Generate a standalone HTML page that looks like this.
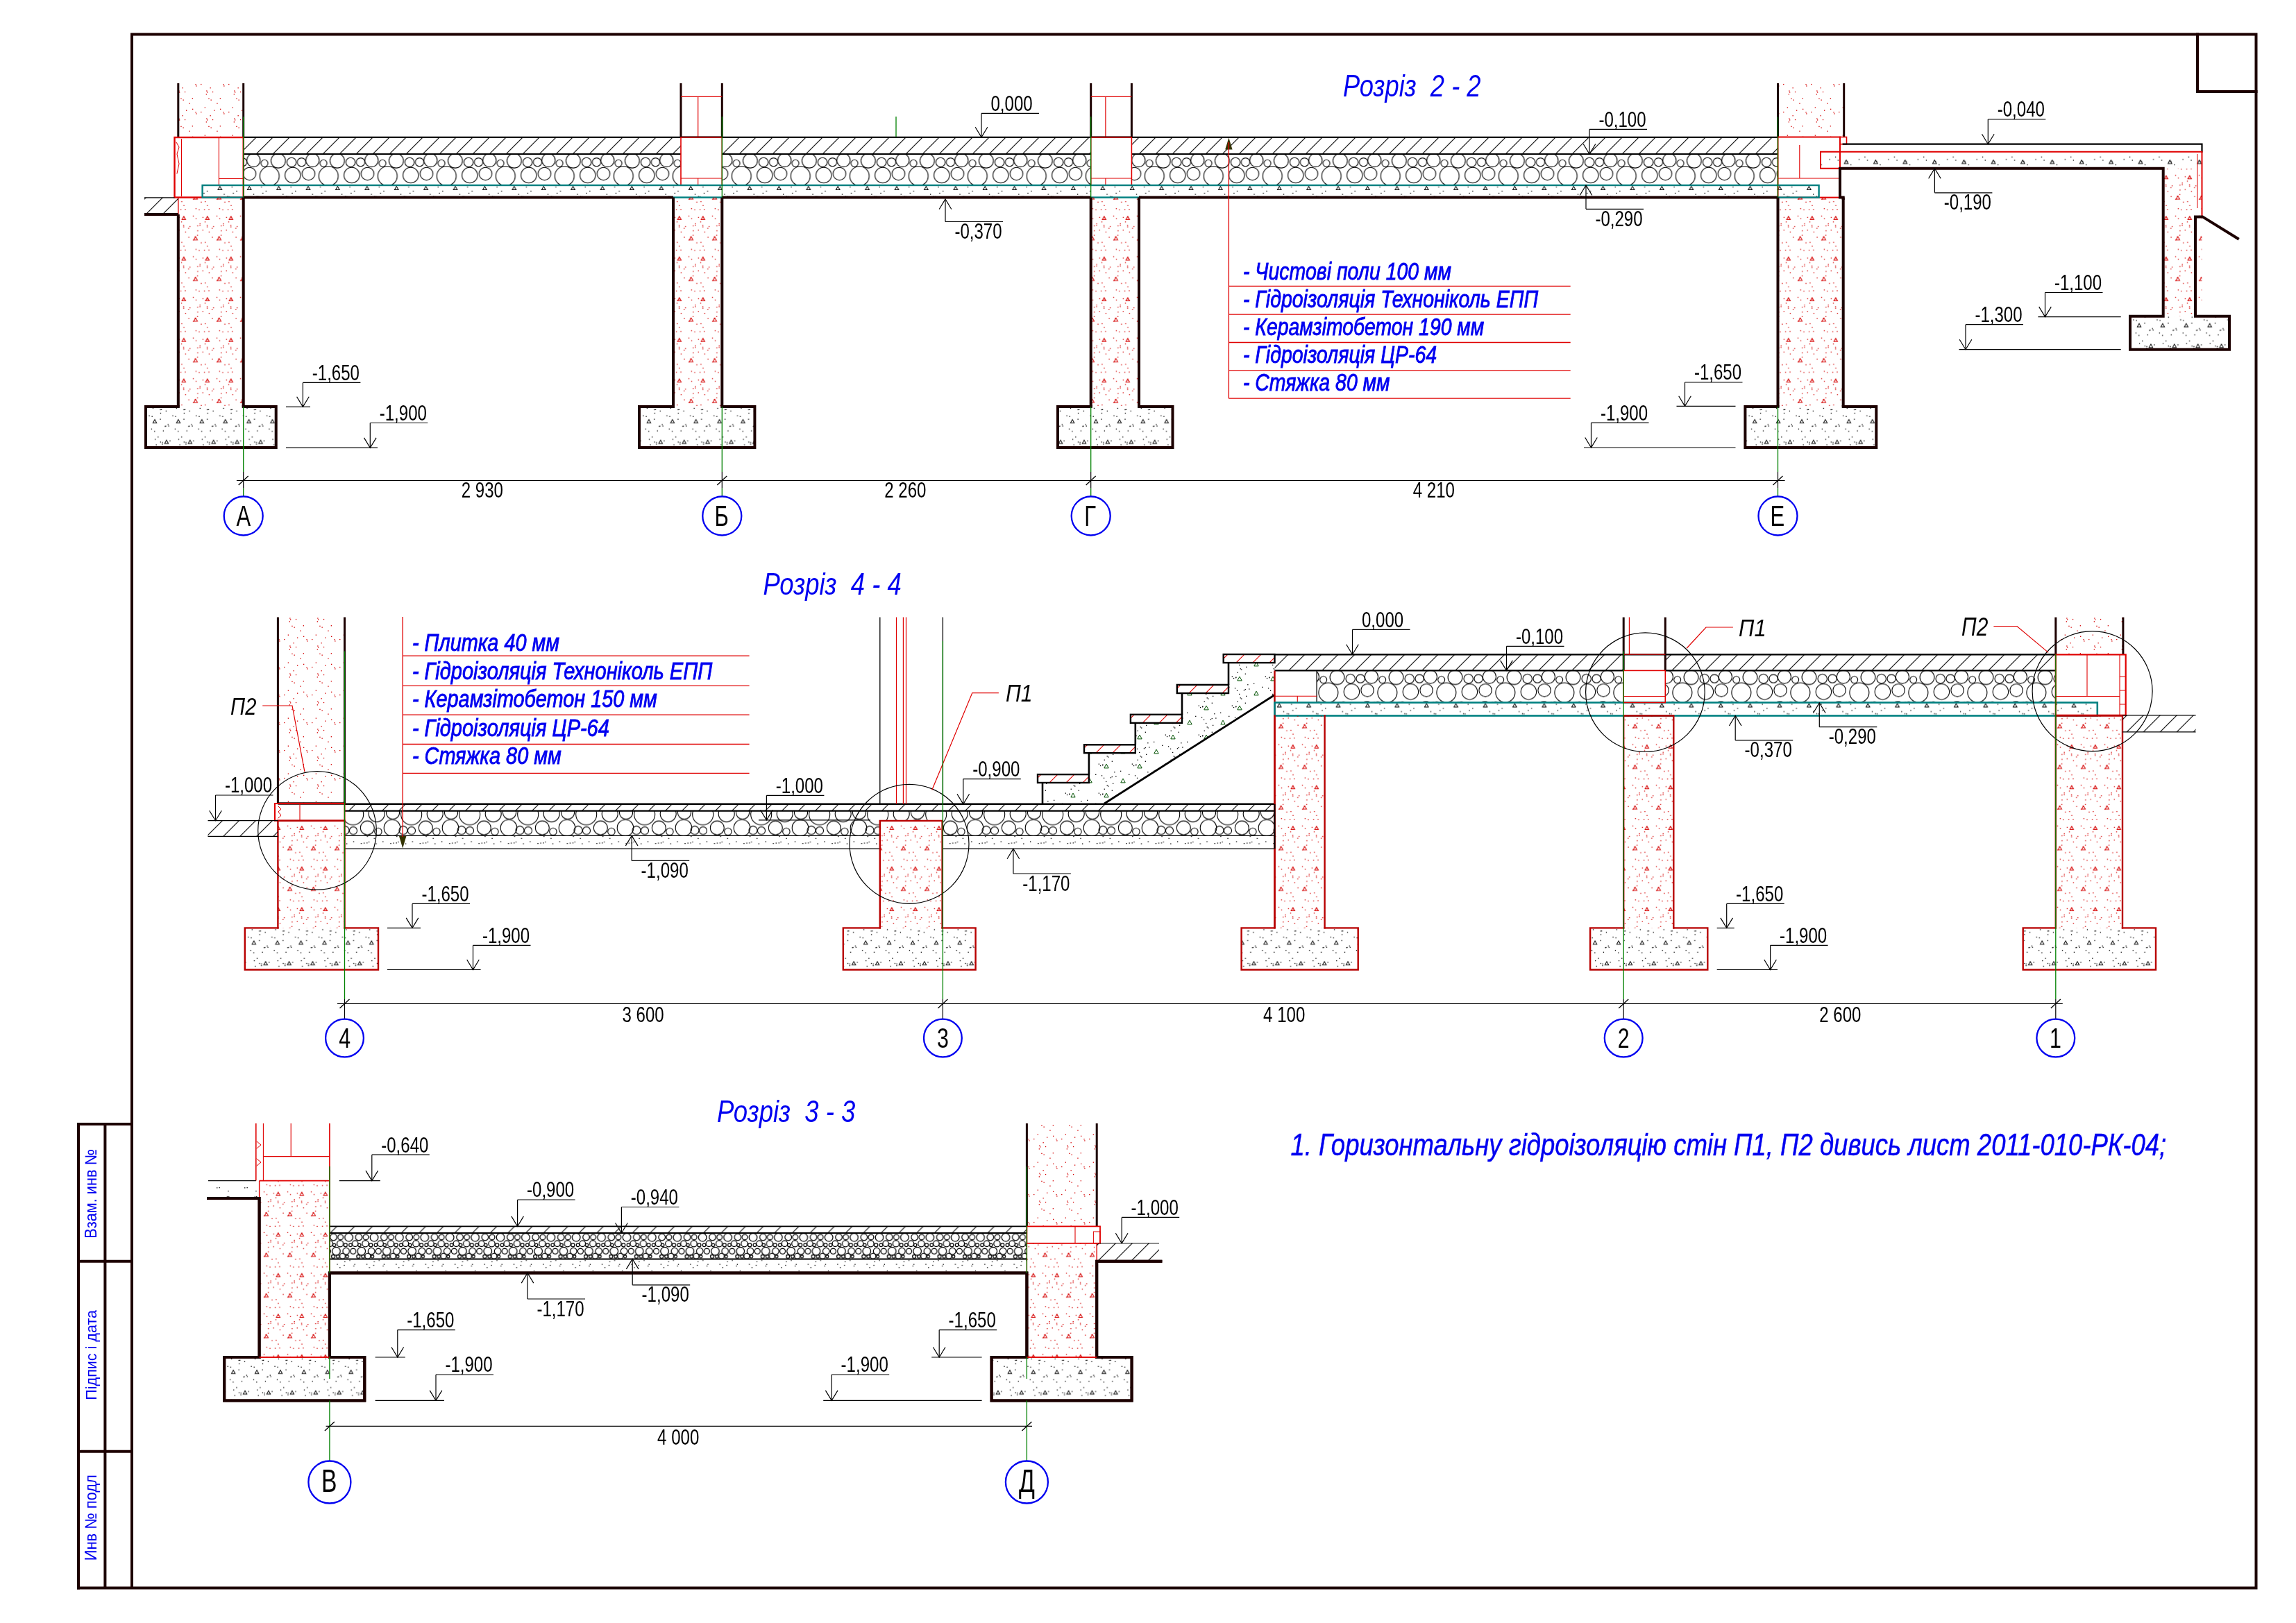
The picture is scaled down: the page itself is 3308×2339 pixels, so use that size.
<!DOCTYPE html><html><head><meta charset="utf-8"><style>html,body{margin:0;padding:0;background:#fff;width:3308px;height:2339px;overflow:hidden}</style></head><body><svg width="3308" height="2339" viewBox="0 0 3308 2339" style="display:block;white-space:pre;will-change:transform" font-family="Liberation Sans, sans-serif"><defs><pattern id="rc" patternUnits="userSpaceOnUse" x="256.8" y="300" width="34" height="58.6"><rect x="4.4" y="48.6" width="1.3" height="1.3" fill="#d40000"/><rect x="25" y="14.6" width="1.3" height="1.3" fill="#d40000"/><rect x="16.2" y="25.8" width="1.3" height="1.3" fill="#d40000"/><rect x="21.3" y="45.2" width="1.3" height="1.3" fill="#d40000"/><rect x="3.1" y="1.6" width="1.3" height="1.3" fill="#d40000"/><rect x="27.3" y="24.8" width="1.3" height="1.3" fill="#d40000"/><rect x="24.9" y="0.1" width="1.3" height="1.3" fill="#d40000"/><rect x="14.6" y="41.3" width="1.3" height="1.3" fill="#d40000"/><rect x="7.5" y="54.2" width="1.3" height="1.3" fill="#d40000"/><rect x="29.5" y="1.8" width="1.3" height="1.3" fill="#d40000"/><rect x="0.8" y="31" width="1.3" height="1.3" fill="#d40000"/><rect x="30.7" y="21.8" width="1.3" height="1.3" fill="#d40000"/><rect x="7.1" y="24.2" width="1.3" height="1.3" fill="#d40000"/><rect x="0.9" y="12.7" width="1.3" height="1.3" fill="#d40000"/><rect x="14.3" y="28.4" width="1.3" height="1.3" fill="#d40000"/><rect x="7.6" y="13.2" width="1.3" height="1.3" fill="#d40000"/><rect x="7.2" y="26.3" width="1.3" height="1.3" fill="#d40000"/><rect x="9.5" y="1.2" width="1.3" height="1.3" fill="#d40000"/><rect x="27.4" y="31.9" width="1.3" height="1.3" fill="#d40000"/><rect x="21" y="10.7" width="1.3" height="1.3" fill="#d40000"/><rect x="32.5" y="49.3" width="1.3" height="1.3" fill="#d40000"/><rect x="4" y="19.1" width="1.3" height="1.3" fill="#d40000"/><rect x="23.6" y="40.8" width="1.3" height="1.3" fill="#d40000"/><rect x="30.6" y="24.2" width="1.3" height="1.3" fill="#d40000"/><rect x="27.1" y="38.4" width="1.3" height="1.3" fill="#d40000"/><rect x="9.9" y="33.7" width="1.3" height="1.3" fill="#d40000"/><path d="M5.3 16.4 L8 11.6 L10.7 16.4 Z" fill="none" stroke="#d40000" stroke-width="1"/><path d="M22.3 45.7 L25 40.9 L27.7 45.7 Z" fill="none" stroke="#d40000" stroke-width="1"/></pattern><pattern id="rd" patternUnits="userSpaceOnUse" x="0" y="0" width="40" height="40"><rect x="37" y="36.7" width="1.3" height="1.3" fill="#d40000"/><rect x="2.2" y="3.3" width="1.3" height="1.3" fill="#d40000"/><rect x="32.3" y="28.5" width="1.3" height="1.3" fill="#d40000"/><rect x="25.9" y="11.9" width="1.3" height="1.3" fill="#d40000"/><rect x="23.5" y="23.5" width="1.3" height="1.3" fill="#d40000"/><rect x="22.5" y="6.1" width="1.3" height="1.3" fill="#d40000"/><rect x="16.7" y="15.2" width="1.3" height="1.3" fill="#d40000"/><rect x="28" y="38.5" width="1.3" height="1.3" fill="#d40000"/><rect x="36.7" y="21.1" width="1.3" height="1.3" fill="#d40000"/><rect x="17.2" y="10.4" width="1.3" height="1.3" fill="#d40000"/><rect x="1.4" y="1.1" width="1.3" height="1.3" fill="#d40000"/><rect x="18" y="12.3" width="1.3" height="1.3" fill="#d40000"/><rect x="14.7" y="34.5" width="1.3" height="1.3" fill="#d40000"/><rect x="20.3" y="21.7" width="1.3" height="1.3" fill="#d40000"/><rect x="9.1" y="0.9" width="1.3" height="1.3" fill="#d40000"/></pattern><pattern id="bc" patternUnits="userSpaceOnUse" x="210" y="586" width="33.9" height="59.4"><rect x="7.8" y="31.6" width="1.3" height="1.3" fill="#000"/><rect x="12.1" y="35.1" width="1.3" height="1.3" fill="#000"/><rect x="20.4" y="3.8" width="1.3" height="1.3" fill="#000"/><rect x="0.4" y="48.7" width="1.3" height="1.3" fill="#000"/><rect x="8.5" y="13.6" width="1.3" height="1.3" fill="#000"/><rect x="32.5" y="27.3" width="1.3" height="1.3" fill="#000"/><rect x="27.3" y="27.7" width="1.3" height="1.3" fill="#000"/><rect x="20.8" y="8.8" width="1.3" height="1.3" fill="#000"/><rect x="20.7" y="50.4" width="1.3" height="1.3" fill="#000"/><rect x="17.1" y="43.1" width="1.3" height="1.3" fill="#000"/><rect x="21.9" y="3.7" width="1.3" height="1.3" fill="#000"/><rect x="24.7" y="34.3" width="1.3" height="1.3" fill="#000"/><rect x="9.8" y="1.8" width="1.3" height="1.3" fill="#000"/><rect x="28.2" y="27.5" width="1.3" height="1.3" fill="#000"/><rect x="23.4" y="51.1" width="1.3" height="1.3" fill="#000"/><rect x="23.3" y="53.5" width="1.3" height="1.3" fill="#000"/><rect x="12.9" y="46.5" width="1.3" height="1.3" fill="#000"/><rect x="14.5" y="54.4" width="1.3" height="1.3" fill="#000"/><rect x="28.7" y="5.7" width="1.3" height="1.3" fill="#000"/><rect x="4.4" y="12.6" width="1.3" height="1.3" fill="#000"/><rect x="31.5" y="25.3" width="1.3" height="1.3" fill="#000"/><rect x="20.4" y="17.5" width="1.3" height="1.3" fill="#000"/><path d="M10.3 23.4 L13 18.6 L15.7 23.4 Z" fill="none" stroke="#000" stroke-width="1"/><path d="M27.2 53.1 L29.9 48.3 L32.6 53.1 Z" fill="none" stroke="#000" stroke-width="1"/></pattern><pattern id="bc4" patternUnits="userSpaceOnUse" x="352.8" y="1337.4" width="33.9" height="59.4"><rect x="7.8" y="31.6" width="1.3" height="1.3" fill="#000"/><rect x="12.1" y="35.1" width="1.3" height="1.3" fill="#000"/><rect x="20.4" y="3.8" width="1.3" height="1.3" fill="#000"/><rect x="0.4" y="48.7" width="1.3" height="1.3" fill="#000"/><rect x="8.5" y="13.6" width="1.3" height="1.3" fill="#000"/><rect x="32.5" y="27.3" width="1.3" height="1.3" fill="#000"/><rect x="27.3" y="27.7" width="1.3" height="1.3" fill="#000"/><rect x="20.8" y="8.8" width="1.3" height="1.3" fill="#000"/><rect x="20.7" y="50.4" width="1.3" height="1.3" fill="#000"/><rect x="17.1" y="43.1" width="1.3" height="1.3" fill="#000"/><rect x="21.9" y="3.7" width="1.3" height="1.3" fill="#000"/><rect x="24.7" y="34.3" width="1.3" height="1.3" fill="#000"/><rect x="9.8" y="1.8" width="1.3" height="1.3" fill="#000"/><rect x="28.2" y="27.5" width="1.3" height="1.3" fill="#000"/><rect x="23.4" y="51.1" width="1.3" height="1.3" fill="#000"/><rect x="23.3" y="53.5" width="1.3" height="1.3" fill="#000"/><rect x="12.9" y="46.5" width="1.3" height="1.3" fill="#000"/><rect x="14.5" y="54.4" width="1.3" height="1.3" fill="#000"/><rect x="28.7" y="5.7" width="1.3" height="1.3" fill="#000"/><rect x="4.4" y="12.6" width="1.3" height="1.3" fill="#000"/><rect x="31.5" y="25.3" width="1.3" height="1.3" fill="#000"/><rect x="20.4" y="17.5" width="1.3" height="1.3" fill="#000"/><path d="M10.3 23.4 L13 18.6 L15.7 23.4 Z" fill="none" stroke="#000" stroke-width="1"/><path d="M27.2 53.1 L29.9 48.3 L32.6 53.1 Z" fill="none" stroke="#000" stroke-width="1"/></pattern><pattern id="bc3" patternUnits="userSpaceOnUse" x="323.2" y="1956" width="33.9" height="59.4"><rect x="7.8" y="31.6" width="1.3" height="1.3" fill="#000"/><rect x="12.1" y="35.1" width="1.3" height="1.3" fill="#000"/><rect x="20.4" y="3.8" width="1.3" height="1.3" fill="#000"/><rect x="0.4" y="48.7" width="1.3" height="1.3" fill="#000"/><rect x="8.5" y="13.6" width="1.3" height="1.3" fill="#000"/><rect x="32.5" y="27.3" width="1.3" height="1.3" fill="#000"/><rect x="27.3" y="27.7" width="1.3" height="1.3" fill="#000"/><rect x="20.8" y="8.8" width="1.3" height="1.3" fill="#000"/><rect x="20.7" y="50.4" width="1.3" height="1.3" fill="#000"/><rect x="17.1" y="43.1" width="1.3" height="1.3" fill="#000"/><rect x="21.9" y="3.7" width="1.3" height="1.3" fill="#000"/><rect x="24.7" y="34.3" width="1.3" height="1.3" fill="#000"/><rect x="9.8" y="1.8" width="1.3" height="1.3" fill="#000"/><rect x="28.2" y="27.5" width="1.3" height="1.3" fill="#000"/><rect x="23.4" y="51.1" width="1.3" height="1.3" fill="#000"/><rect x="23.3" y="53.5" width="1.3" height="1.3" fill="#000"/><rect x="12.9" y="46.5" width="1.3" height="1.3" fill="#000"/><rect x="14.5" y="54.4" width="1.3" height="1.3" fill="#000"/><rect x="28.7" y="5.7" width="1.3" height="1.3" fill="#000"/><rect x="4.4" y="12.6" width="1.3" height="1.3" fill="#000"/><rect x="31.5" y="25.3" width="1.3" height="1.3" fill="#000"/><rect x="20.4" y="17.5" width="1.3" height="1.3" fill="#000"/><path d="M10.3 23.4 L13 18.6 L15.7 23.4 Z" fill="none" stroke="#000" stroke-width="1"/><path d="M27.2 53.1 L29.9 48.3 L32.6 53.1 Z" fill="none" stroke="#000" stroke-width="1"/></pattern><pattern id="bcp" patternUnits="userSpaceOnUse" x="3069" y="447.7" width="33.9" height="59.4"><rect x="7.8" y="31.6" width="1.3" height="1.3" fill="#000"/><rect x="12.1" y="35.1" width="1.3" height="1.3" fill="#000"/><rect x="20.4" y="3.8" width="1.3" height="1.3" fill="#000"/><rect x="0.4" y="48.7" width="1.3" height="1.3" fill="#000"/><rect x="8.5" y="13.6" width="1.3" height="1.3" fill="#000"/><rect x="32.5" y="27.3" width="1.3" height="1.3" fill="#000"/><rect x="27.3" y="27.7" width="1.3" height="1.3" fill="#000"/><rect x="20.8" y="8.8" width="1.3" height="1.3" fill="#000"/><rect x="20.7" y="50.4" width="1.3" height="1.3" fill="#000"/><rect x="17.1" y="43.1" width="1.3" height="1.3" fill="#000"/><rect x="21.9" y="3.7" width="1.3" height="1.3" fill="#000"/><rect x="24.7" y="34.3" width="1.3" height="1.3" fill="#000"/><rect x="9.8" y="1.8" width="1.3" height="1.3" fill="#000"/><rect x="28.2" y="27.5" width="1.3" height="1.3" fill="#000"/><rect x="23.4" y="51.1" width="1.3" height="1.3" fill="#000"/><rect x="23.3" y="53.5" width="1.3" height="1.3" fill="#000"/><rect x="12.9" y="46.5" width="1.3" height="1.3" fill="#000"/><rect x="14.5" y="54.4" width="1.3" height="1.3" fill="#000"/><rect x="28.7" y="5.7" width="1.3" height="1.3" fill="#000"/><rect x="4.4" y="12.6" width="1.3" height="1.3" fill="#000"/><rect x="31.5" y="25.3" width="1.3" height="1.3" fill="#000"/><rect x="20.4" y="17.5" width="1.3" height="1.3" fill="#000"/><path d="M10.3 23.4 L13 18.6 L15.7 23.4 Z" fill="none" stroke="#000" stroke-width="1"/><path d="M27.2 53.1 L29.9 48.3 L32.6 53.1 Z" fill="none" stroke="#000" stroke-width="1"/></pattern><pattern id="bd" patternUnits="userSpaceOnUse" x="0" y="0" width="40" height="40"><rect x="9.1" y="4" width="1.3" height="1.3" fill="#000"/><rect x="15.3" y="6" width="1.3" height="1.3" fill="#000"/><rect x="2.6" y="15.5" width="1.3" height="1.3" fill="#000"/><rect x="35.5" y="31" width="1.3" height="1.3" fill="#000"/><rect x="29.6" y="8.6" width="1.3" height="1.3" fill="#000"/><rect x="20.8" y="10.7" width="1.3" height="1.3" fill="#000"/><rect x="6.7" y="4.1" width="1.3" height="1.3" fill="#000"/><rect x="8.3" y="35.9" width="1.3" height="1.3" fill="#000"/><rect x="32.1" y="31.2" width="1.3" height="1.3" fill="#000"/></pattern><pattern id="ht" patternUnits="userSpaceOnUse" x="15.1" y="0" width="24" height="24"><path d="M0 24 L24 0 M-6 6 L6 -6 M18 30 L30 18" stroke="#000" stroke-width="1.1"/></pattern><pattern id="htr" patternUnits="userSpaceOnUse" x="0" y="0" width="24" height="24"><path d="M0 24 L24 0 M-6 6 L6 -6 M18 30 L30 18" stroke="#e00000" stroke-width="1.1"/></pattern><pattern id="ht16" patternUnits="userSpaceOnUse" x="0" y="0" width="25.6" height="25.6"><path d="M0 25.6 L25.6 0 M-6 6 L6 -6 M19.6 31.6 L31.6 19.6" stroke="#000" stroke-width="1.1"/></pattern><pattern id="gv" patternUnits="userSpaceOnUse" x="1139.4" y="222" width="85" height="45"><circle cx="-71.1" cy="31.8" r="14" fill="none" stroke="#000" stroke-width="1.1"/><circle cx="13.9" cy="31.8" r="14" fill="none" stroke="#000" stroke-width="1.1"/><circle cx="98.9" cy="31.8" r="14" fill="none" stroke="#000" stroke-width="1.1"/><circle cx="-37.6" cy="30.5" r="11.2" fill="none" stroke="#000" stroke-width="1.1"/><circle cx="47.4" cy="30.5" r="11.2" fill="none" stroke="#000" stroke-width="1.1"/><circle cx="132.4" cy="30.5" r="11.2" fill="none" stroke="#000" stroke-width="1.1"/><circle cx="-14.9" cy="28.4" r="9.2" fill="none" stroke="#000" stroke-width="1.1"/><circle cx="70.1" cy="28.4" r="9.2" fill="none" stroke="#000" stroke-width="1.1"/><circle cx="155.1" cy="28.4" r="9.2" fill="none" stroke="#000" stroke-width="1.1"/><circle cx="-9.1" cy="9" r="9.6" fill="none" stroke="#000" stroke-width="1.1"/><circle cx="75.9" cy="9" r="9.6" fill="none" stroke="#000" stroke-width="1.1"/><circle cx="160.9" cy="9" r="9.6" fill="none" stroke="#000" stroke-width="1.1"/><circle cx="-78.3" cy="13.3" r="5" fill="none" stroke="#000" stroke-width="1.1"/><circle cx="6.7" cy="13.3" r="5" fill="none" stroke="#000" stroke-width="1.1"/><circle cx="91.7" cy="13.3" r="5" fill="none" stroke="#000" stroke-width="1.1"/><circle cx="-58.5" cy="9.7" r="10.4" fill="none" stroke="#000" stroke-width="1.1"/><circle cx="26.5" cy="9.7" r="10.4" fill="none" stroke="#000" stroke-width="1.1"/><circle cx="111.5" cy="9.7" r="10.4" fill="none" stroke="#000" stroke-width="1.1"/><circle cx="-39.3" cy="11.9" r="6.7" fill="none" stroke="#000" stroke-width="1.1"/><circle cx="45.7" cy="11.9" r="6.7" fill="none" stroke="#000" stroke-width="1.1"/><circle cx="130.7" cy="11.9" r="6.7" fill="none" stroke="#000" stroke-width="1.1"/><circle cx="-24.9" cy="11.7" r="6.1" fill="none" stroke="#000" stroke-width="1.1"/><circle cx="60.1" cy="11.7" r="6.1" fill="none" stroke="#000" stroke-width="1.1"/><circle cx="145.1" cy="11.7" r="6.1" fill="none" stroke="#000" stroke-width="1.1"/><circle cx="-15.8" cy="54" r="9.5" fill="none" stroke="#000" stroke-width="1.1"/><circle cx="69.2" cy="54" r="9.5" fill="none" stroke="#000" stroke-width="1.1"/><circle cx="154.2" cy="54" r="9.5" fill="none" stroke="#000" stroke-width="1.1"/><circle cx="-49.5" cy="54" r="9" fill="none" stroke="#000" stroke-width="1.1"/><circle cx="35.5" cy="54" r="9" fill="none" stroke="#000" stroke-width="1.1"/><circle cx="120.5" cy="54" r="9" fill="none" stroke="#000" stroke-width="1.1"/><circle cx="-85" cy="54" r="9" fill="none" stroke="#000" stroke-width="1.1"/><circle cx="0" cy="54" r="9" fill="none" stroke="#000" stroke-width="1.1"/><circle cx="85" cy="54" r="9" fill="none" stroke="#000" stroke-width="1.1"/></pattern><pattern id="gv3" patternUnits="userSpaceOnUse" x="1900" y="966.4" width="85" height="45"><circle cx="-71.1" cy="31.8" r="14" fill="none" stroke="#000" stroke-width="1.1"/><circle cx="13.9" cy="31.8" r="14" fill="none" stroke="#000" stroke-width="1.1"/><circle cx="98.9" cy="31.8" r="14" fill="none" stroke="#000" stroke-width="1.1"/><circle cx="-37.6" cy="30.5" r="11.2" fill="none" stroke="#000" stroke-width="1.1"/><circle cx="47.4" cy="30.5" r="11.2" fill="none" stroke="#000" stroke-width="1.1"/><circle cx="132.4" cy="30.5" r="11.2" fill="none" stroke="#000" stroke-width="1.1"/><circle cx="-14.9" cy="28.4" r="9.2" fill="none" stroke="#000" stroke-width="1.1"/><circle cx="70.1" cy="28.4" r="9.2" fill="none" stroke="#000" stroke-width="1.1"/><circle cx="155.1" cy="28.4" r="9.2" fill="none" stroke="#000" stroke-width="1.1"/><circle cx="-9.1" cy="9" r="9.6" fill="none" stroke="#000" stroke-width="1.1"/><circle cx="75.9" cy="9" r="9.6" fill="none" stroke="#000" stroke-width="1.1"/><circle cx="160.9" cy="9" r="9.6" fill="none" stroke="#000" stroke-width="1.1"/><circle cx="-78.3" cy="13.3" r="5" fill="none" stroke="#000" stroke-width="1.1"/><circle cx="6.7" cy="13.3" r="5" fill="none" stroke="#000" stroke-width="1.1"/><circle cx="91.7" cy="13.3" r="5" fill="none" stroke="#000" stroke-width="1.1"/><circle cx="-58.5" cy="9.7" r="10.4" fill="none" stroke="#000" stroke-width="1.1"/><circle cx="26.5" cy="9.7" r="10.4" fill="none" stroke="#000" stroke-width="1.1"/><circle cx="111.5" cy="9.7" r="10.4" fill="none" stroke="#000" stroke-width="1.1"/><circle cx="-39.3" cy="11.9" r="6.7" fill="none" stroke="#000" stroke-width="1.1"/><circle cx="45.7" cy="11.9" r="6.7" fill="none" stroke="#000" stroke-width="1.1"/><circle cx="130.7" cy="11.9" r="6.7" fill="none" stroke="#000" stroke-width="1.1"/><circle cx="-24.9" cy="11.7" r="6.1" fill="none" stroke="#000" stroke-width="1.1"/><circle cx="60.1" cy="11.7" r="6.1" fill="none" stroke="#000" stroke-width="1.1"/><circle cx="145.1" cy="11.7" r="6.1" fill="none" stroke="#000" stroke-width="1.1"/><circle cx="-15.8" cy="54" r="9.5" fill="none" stroke="#000" stroke-width="1.1"/><circle cx="69.2" cy="54" r="9.5" fill="none" stroke="#000" stroke-width="1.1"/><circle cx="154.2" cy="54" r="9.5" fill="none" stroke="#000" stroke-width="1.1"/><circle cx="-49.5" cy="54" r="9" fill="none" stroke="#000" stroke-width="1.1"/><circle cx="35.5" cy="54" r="9" fill="none" stroke="#000" stroke-width="1.1"/><circle cx="120.5" cy="54" r="9" fill="none" stroke="#000" stroke-width="1.1"/><circle cx="-85" cy="54" r="9" fill="none" stroke="#000" stroke-width="1.1"/><circle cx="0" cy="54" r="9" fill="none" stroke="#000" stroke-width="1.1"/><circle cx="85" cy="54" r="9" fill="none" stroke="#000" stroke-width="1.1"/></pattern><pattern id="gv2" patternUnits="userSpaceOnUse" x="470" y="1777.3" width="36.4" height="37.4"><circle cx="-25.9" cy="5.7" r="4.8" fill="none" stroke="#000" stroke-width="1.25"/><circle cx="10.5" cy="5.7" r="4.8" fill="none" stroke="#000" stroke-width="1.25"/><circle cx="46.9" cy="5.7" r="4.8" fill="none" stroke="#000" stroke-width="1.25"/><circle cx="-15.8" cy="5.7" r="3.9" fill="none" stroke="#000" stroke-width="1.25"/><circle cx="20.6" cy="5.7" r="3.9" fill="none" stroke="#000" stroke-width="1.25"/><circle cx="57" cy="5.7" r="3.9" fill="none" stroke="#000" stroke-width="1.25"/><circle cx="-3.8" cy="5.9" r="5.8" fill="none" stroke="#000" stroke-width="1.25"/><circle cx="32.6" cy="5.9" r="5.8" fill="none" stroke="#000" stroke-width="1.25"/><circle cx="69" cy="5.9" r="5.8" fill="none" stroke="#000" stroke-width="1.25"/><circle cx="-31.1" cy="15" r="4.2" fill="none" stroke="#000" stroke-width="1.25"/><circle cx="5.3" cy="15" r="4.2" fill="none" stroke="#000" stroke-width="1.25"/><circle cx="41.7" cy="15" r="4.2" fill="none" stroke="#000" stroke-width="1.25"/><circle cx="-24.9" cy="17" r="2.2" fill="none" stroke="#000" stroke-width="1.25"/><circle cx="11.5" cy="17" r="2.2" fill="none" stroke="#000" stroke-width="1.25"/><circle cx="47.9" cy="17" r="2.2" fill="none" stroke="#000" stroke-width="1.25"/><circle cx="-16.3" cy="15" r="4.6" fill="none" stroke="#000" stroke-width="1.25"/><circle cx="20.1" cy="15" r="4.6" fill="none" stroke="#000" stroke-width="1.25"/><circle cx="56.5" cy="15" r="4.6" fill="none" stroke="#000" stroke-width="1.25"/><circle cx="-8.6" cy="17" r="2.5" fill="none" stroke="#000" stroke-width="1.25"/><circle cx="27.8" cy="17" r="2.5" fill="none" stroke="#000" stroke-width="1.25"/><circle cx="64.2" cy="17" r="2.5" fill="none" stroke="#000" stroke-width="1.25"/><circle cx="-1.4" cy="17" r="2.3" fill="none" stroke="#000" stroke-width="1.25"/><circle cx="35" cy="17" r="2.3" fill="none" stroke="#000" stroke-width="1.25"/><circle cx="71.4" cy="17" r="2.3" fill="none" stroke="#000" stroke-width="1.25"/><circle cx="-34" cy="25.9" r="4" fill="none" stroke="#000" stroke-width="1.25"/><circle cx="2.4" cy="25.9" r="4" fill="none" stroke="#000" stroke-width="1.25"/><circle cx="38.8" cy="25.9" r="4" fill="none" stroke="#000" stroke-width="1.25"/><circle cx="-22" cy="25.9" r="5.8" fill="none" stroke="#000" stroke-width="1.25"/><circle cx="14.4" cy="25.9" r="5.8" fill="none" stroke="#000" stroke-width="1.25"/><circle cx="50.8" cy="25.9" r="5.8" fill="none" stroke="#000" stroke-width="1.25"/><circle cx="-7.7" cy="25.9" r="4.8" fill="none" stroke="#000" stroke-width="1.25"/><circle cx="28.7" cy="25.9" r="4.8" fill="none" stroke="#000" stroke-width="1.25"/><circle cx="65.1" cy="25.9" r="4.8" fill="none" stroke="#000" stroke-width="1.25"/><circle cx="-26.4" cy="33.5" r="2.5" fill="none" stroke="#000" stroke-width="1.25"/><circle cx="10" cy="33.5" r="2.5" fill="none" stroke="#000" stroke-width="1.25"/><circle cx="46.4" cy="33.5" r="2.5" fill="none" stroke="#000" stroke-width="1.25"/><circle cx="-19.6" cy="33.5" r="2.3" fill="none" stroke="#000" stroke-width="1.25"/><circle cx="16.8" cy="33.5" r="2.3" fill="none" stroke="#000" stroke-width="1.25"/><circle cx="53.2" cy="33.5" r="2.3" fill="none" stroke="#000" stroke-width="1.25"/><circle cx="-12.9" cy="33" r="4" fill="none" stroke="#000" stroke-width="1.25"/><circle cx="23.5" cy="33" r="4" fill="none" stroke="#000" stroke-width="1.25"/><circle cx="59.9" cy="33" r="4" fill="none" stroke="#000" stroke-width="1.25"/><circle cx="-6.2" cy="33.5" r="2" fill="none" stroke="#000" stroke-width="1.25"/><circle cx="30.2" cy="33.5" r="2" fill="none" stroke="#000" stroke-width="1.25"/><circle cx="66.6" cy="33.5" r="2" fill="none" stroke="#000" stroke-width="1.25"/></pattern><pattern id="sc" patternUnits="userSpaceOnUse" x="0" y="267" width="42.4" height="18"><rect x="25.6" y="12.4" width="1.3" height="1.3" fill="#000"/><rect x="32.7" y="15.7" width="1.3" height="1.3" fill="#000"/><rect x="30.4" y="15.4" width="1.3" height="1.3" fill="#000"/><rect x="1.2" y="7.8" width="1.3" height="1.3" fill="#000"/><rect x="38.8" y="10.8" width="1.3" height="1.3" fill="#000"/><rect x="37" y="1.9" width="1.3" height="1.3" fill="#000"/><path d="M17.2 6.5 L20 1.5 L22.8 6.5 Z" fill="none" stroke="#000" stroke-width="1"/></pattern><pattern id="sc3" patternUnits="userSpaceOnUse" x="0" y="1012.5" width="42.4" height="18"><rect x="25.6" y="12.4" width="1.3" height="1.3" fill="#000"/><rect x="32.7" y="15.7" width="1.3" height="1.3" fill="#000"/><rect x="30.4" y="15.4" width="1.3" height="1.3" fill="#000"/><rect x="1.2" y="7.8" width="1.3" height="1.3" fill="#000"/><rect x="38.8" y="10.8" width="1.3" height="1.3" fill="#000"/><rect x="37" y="1.9" width="1.3" height="1.3" fill="#000"/><path d="M17.2 6.5 L20 1.5 L22.8 6.5 Z" fill="none" stroke="#000" stroke-width="1"/></pattern><pattern id="sc2" patternUnits="userSpaceOnUse" x="2640" y="218.7" width="42.4" height="24"><rect x="18.6" y="12.7" width="1.3" height="1.3" fill="#000"/><rect x="38" y="10.6" width="1.3" height="1.3" fill="#000"/><rect x="20.9" y="13.3" width="1.3" height="1.3" fill="#000"/><rect x="7.6" y="11.6" width="1.3" height="1.3" fill="#000"/><rect x="25.9" y="18" width="1.3" height="1.3" fill="#000"/><rect x="3.9" y="6.9" width="1.3" height="1.3" fill="#000"/><path d="M17.2 17 L20 12 L22.8 17 Z" fill="none" stroke="#000" stroke-width="1"/></pattern><pattern id="scl" patternUnits="userSpaceOnUse" x="0" y="0" width="42.4" height="20"><rect x="32.6" y="15.4" width="1.3" height="1.3" fill="#000"/><rect x="19.9" y="4.9" width="1.3" height="1.3" fill="#000"/><rect x="0" y="12.4" width="1.3" height="1.3" fill="#000"/><rect x="19.3" y="14.2" width="1.3" height="1.3" fill="#000"/><rect x="15.3" y="14.4" width="1.3" height="1.3" fill="#000"/><rect x="11.2" y="15" width="1.3" height="1.3" fill="#000"/><rect x="30" y="7.7" width="1.3" height="1.3" fill="#000"/><rect x="22.1" y="12.8" width="1.3" height="1.3" fill="#000"/></pattern><pattern id="stc" patternUnits="userSpaceOnUse" x="0" y="0" width="48" height="42"><rect x="10.6" y="39.2" width="1.3" height="1.3" fill="#000"/><rect x="5.9" y="28.7" width="1.3" height="1.3" fill="#000"/><rect x="4" y="10.1" width="1.3" height="1.3" fill="#000"/><rect x="46.7" y="8.5" width="1.3" height="1.3" fill="#000"/><rect x="30" y="18.7" width="1.3" height="1.3" fill="#000"/><rect x="21.2" y="20.1" width="1.3" height="1.3" fill="#000"/><rect x="9" y="33.8" width="1.3" height="1.3" fill="#000"/><rect x="4.2" y="9.5" width="1.3" height="1.3" fill="#000"/><rect x="0.9" y="10.9" width="1.3" height="1.3" fill="#000"/><rect x="19" y="36.7" width="1.3" height="1.3" fill="#000"/><rect x="17.7" y="4.6" width="1.3" height="1.3" fill="#000"/><rect x="12.1" y="40.4" width="1.3" height="1.3" fill="#000"/><rect x="2.9" y="25.2" width="1.3" height="1.3" fill="#000"/><rect x="17.6" y="26.9" width="1.3" height="1.3" fill="#000"/><rect x="15.8" y="28.1" width="1.3" height="1.3" fill="#000"/><rect x="23.2" y="26.4" width="1.3" height="1.3" fill="#000"/><rect x="42.1" y="23.7" width="1.3" height="1.3" fill="#000"/><rect x="6.6" y="2.6" width="1.3" height="1.3" fill="#000"/><path d="M6.8 14.9 L10 9.1 L13.2 14.9 Z" fill="none" stroke="#005000" stroke-width="1"/><path d="M30.8 35.9 L34 30.1 L37.2 35.9 Z" fill="none" stroke="#005000" stroke-width="1"/></pattern><pattern id="gv4" patternUnits="userSpaceOnUse" x="1080" y="1168.6" width="84" height="35.8"><circle cx="-67.3" cy="5.2" r="15" fill="none" stroke="#000" stroke-width="1.1"/><circle cx="16.7" cy="5.2" r="15" fill="none" stroke="#000" stroke-width="1.1"/><circle cx="100.7" cy="5.2" r="15" fill="none" stroke="#000" stroke-width="1.1"/><circle cx="-33.3" cy="4.3" r="11.5" fill="none" stroke="#000" stroke-width="1.1"/><circle cx="50.7" cy="4.3" r="11.5" fill="none" stroke="#000" stroke-width="1.1"/><circle cx="134.7" cy="4.3" r="11.5" fill="none" stroke="#000" stroke-width="1.1"/><circle cx="-10" cy="2.4" r="9.6" fill="none" stroke="#000" stroke-width="1.1"/><circle cx="74" cy="2.4" r="9.6" fill="none" stroke="#000" stroke-width="1.1"/><circle cx="158" cy="2.4" r="9.6" fill="none" stroke="#000" stroke-width="1.1"/><circle cx="-79" cy="28" r="6" fill="none" stroke="#000" stroke-width="1.1"/><circle cx="5" cy="28" r="6" fill="none" stroke="#000" stroke-width="1.1"/><circle cx="89" cy="28" r="6" fill="none" stroke="#000" stroke-width="1.1"/><circle cx="-67" cy="28.5" r="5.5" fill="none" stroke="#000" stroke-width="1.1"/><circle cx="17" cy="28.5" r="5.5" fill="none" stroke="#000" stroke-width="1.1"/><circle cx="101" cy="28.5" r="5.5" fill="none" stroke="#000" stroke-width="1.1"/><circle cx="-46.7" cy="24.5" r="10" fill="none" stroke="#000" stroke-width="1.1"/><circle cx="37.3" cy="24.5" r="10" fill="none" stroke="#000" stroke-width="1.1"/><circle cx="121.3" cy="24.5" r="10" fill="none" stroke="#000" stroke-width="1.1"/><circle cx="-31.1" cy="30" r="5.2" fill="none" stroke="#000" stroke-width="1.1"/><circle cx="52.9" cy="30" r="5.2" fill="none" stroke="#000" stroke-width="1.1"/><circle cx="136.9" cy="30" r="5.2" fill="none" stroke="#000" stroke-width="1.1"/><circle cx="-11" cy="24.5" r="11.8" fill="none" stroke="#000" stroke-width="1.1"/><circle cx="73" cy="24.5" r="11.8" fill="none" stroke="#000" stroke-width="1.1"/><circle cx="157" cy="24.5" r="11.8" fill="none" stroke="#000" stroke-width="1.1"/></pattern><pattern id="scl4" patternUnits="userSpaceOnUse" x="0" y="1814.4" width="42.4" height="20.2"><rect x="19" y="7.1" width="1.3" height="1.3" fill="#000"/><rect x="5.7" y="16.4" width="1.3" height="1.3" fill="#000"/><rect x="0.3" y="9.5" width="1.3" height="1.3" fill="#000"/><rect x="36.9" y="1.5" width="1.3" height="1.3" fill="#000"/><rect x="22.8" y="11.7" width="1.3" height="1.3" fill="#000"/><rect x="1.7" y="7.2" width="1.3" height="1.3" fill="#000"/><rect x="28.9" y="8.5" width="1.3" height="1.3" fill="#000"/><rect x="29.8" y="3" width="1.3" height="1.3" fill="#000"/></pattern></defs><rect width="3308" height="2339" fill="#fff"/><path d="M190 49.5 L3250.5 49.5 L3250.5 2288.5 L113 2288.5" stroke="#1c0000" stroke-width="4" fill="none" stroke-linejoin="miter" stroke-linecap="square"/>
<line x1="190" y1="49.5" x2="190" y2="2288.5" stroke="#1c0000" stroke-width="4"/>
<path d="M3166 49.5 L3166 132 L3250.5 132" stroke="#1c0000" stroke-width="4" fill="none" stroke-linejoin="miter" stroke-linecap="square"/>
<path d="M113 2288.5 L113 1620 L190 1620" stroke="#1c0000" stroke-width="4" fill="none" stroke-linejoin="miter" stroke-linecap="square"/>
<line x1="151.4" y1="1620" x2="151.4" y2="2288.5" stroke="#1c0000" stroke-width="4"/>
<line x1="113" y1="1817.8" x2="190" y2="1817.8" stroke="#1c0000" stroke-width="4"/>
<line x1="113" y1="2091.8" x2="190" y2="2091.8" stroke="#1c0000" stroke-width="4"/>
<text transform="translate(131 1720) rotate(-90) translate(-64.8 8.2) scale(0.9187 1)" font-size="23.7" font-style="normal" font-weight="normal" fill="#0000f0">Взам. инв №</text>
<text transform="translate(131 1952) rotate(-90) translate(-65.7 8.2) scale(0.9577 1)" font-size="22.5" font-style="normal" font-weight="normal" fill="#0000f0">Підпис і дата</text>
<text transform="translate(131 2187) rotate(-90) translate(-62.3 8.2) scale(0.9241 1)" font-size="23.7" font-style="normal" font-weight="normal" fill="#0000f0">Инв № подл</text>
<text transform="translate(1934.9 138.6) scale(0.8283 1)" font-size="43.9" font-style="italic" font-weight="normal" fill="#0000f0">Розріз  2 - 2</text>
<rect x="350.7" y="197.8" width="630.3" height="24.2" fill="url(#ht)"/>
<g><clipPath id="cg350"><rect x="350.7" y="222" width="630.3" height="45"/></clipPath></g>
<rect x="350.7" y="222" width="630.3" height="45" fill="url(#gv)" clip-path="url(#cg350)"/>
<line x1="350.7" y1="222" x2="981" y2="222" stroke="#000" stroke-width="2.2"/>
<rect x="1040.3" y="197.8" width="531.4" height="24.2" fill="url(#ht)"/>
<g><clipPath id="cg1040"><rect x="1040.3" y="222" width="531.4" height="45"/></clipPath></g>
<rect x="1040.3" y="222" width="531.4" height="45" fill="url(#gv)" clip-path="url(#cg1040)"/>
<line x1="1040.3" y1="222" x2="1571.7" y2="222" stroke="#000" stroke-width="2.2"/>
<rect x="1630.4" y="197.8" width="931.1" height="24.2" fill="url(#ht)"/>
<g><clipPath id="cg1630"><rect x="1630.4" y="222" width="931.1" height="45"/></clipPath></g>
<rect x="1630.4" y="222" width="931.1" height="45" fill="url(#gv)" clip-path="url(#cg1630)"/>
<line x1="1630.4" y1="222" x2="2561.5" y2="222" stroke="#000" stroke-width="2.2"/>
<rect x="291.6" y="267" width="2329" height="17.5" fill="url(#sc)"/>
<line x1="350.7" y1="197.8" x2="2561.5" y2="197.8" stroke="#000" stroke-width="2.2"/>
<rect x="256.8" y="120" width="93.9" height="78" fill="url(#rd)"/>
<line x1="256.8" y1="120" x2="256.8" y2="198" stroke="#1c0000" stroke-width="3"/>
<line x1="350.7" y1="120" x2="350.7" y2="198" stroke="#1c0000" stroke-width="3"/>
<line x1="981" y1="120" x2="981" y2="197.8" stroke="#1c0000" stroke-width="3"/>
<line x1="1040.3" y1="120" x2="1040.3" y2="197.8" stroke="#1c0000" stroke-width="3"/>
<line x1="981" y1="139.4" x2="1040.3" y2="139.4" stroke="#e00000" stroke-width="1.2"/>
<line x1="1005.7" y1="139.4" x2="1005.7" y2="197.8" stroke="#e00000" stroke-width="1.2"/>
<line x1="1571.7" y1="120" x2="1571.7" y2="197.8" stroke="#1c0000" stroke-width="3"/>
<line x1="1630.4" y1="120" x2="1630.4" y2="197.8" stroke="#1c0000" stroke-width="3"/>
<line x1="1571.7" y1="139.4" x2="1630.4" y2="139.4" stroke="#e00000" stroke-width="1.2"/>
<line x1="1592.9" y1="139.4" x2="1592.9" y2="197.8" stroke="#e00000" stroke-width="1.2"/>
<rect x="2561.5" y="120" width="95.2" height="77.5" fill="url(#rd)"/>
<line x1="2561.5" y1="120" x2="2561.5" y2="198" stroke="#1c0000" stroke-width="3"/>
<line x1="2656.7" y1="120" x2="2656.7" y2="198" stroke="#1c0000" stroke-width="3"/>
<line x1="981" y1="197.8" x2="1040.3" y2="197.8" stroke="#1c0000" stroke-width="2.5"/>
<line x1="1571.7" y1="197.8" x2="1630.4" y2="197.8" stroke="#1c0000" stroke-width="2.5"/>
<rect x="251.5" y="198" width="99.2" height="86.5" stroke="#e00000" stroke-width="2.4" fill="none"/>
<line x1="261.5" y1="200" x2="261.5" y2="283" stroke="#e00000" stroke-width="1.1"/>
<line x1="315.4" y1="198" x2="315.4" y2="266" stroke="#e00000" stroke-width="1.1"/>
<line x1="315.4" y1="257.5" x2="350.7" y2="257.5" stroke="#e00000" stroke-width="1.1"/>
<path d="M254 205 L258 212 L255 222 L258 236 L255 250" stroke="#e00000" stroke-width="1" fill="none" stroke-linejoin="miter" stroke-linecap="square"/>
<rect x="981" y="197.8" width="59.3" height="69.2" stroke="#e00000" stroke-width="1.6" fill="none"/>
<line x1="981" y1="257" x2="1040.3" y2="257" stroke="#e00000" stroke-width="1.1"/>
<line x1="1005.7" y1="257" x2="1005.7" y2="267" stroke="#e00000" stroke-width="1.1"/>
<rect x="1571.7" y="197.8" width="58.7" height="69.2" stroke="#e00000" stroke-width="1.6" fill="none"/>
<line x1="1571.7" y1="257" x2="1630.4" y2="257" stroke="#e00000" stroke-width="1.1"/>
<line x1="1592.9" y1="257" x2="1592.9" y2="267" stroke="#e00000" stroke-width="1.1"/>
<rect x="2561.5" y="197.5" width="89.5" height="87.1" stroke="#e00000" stroke-width="2" fill="none"/>
<line x1="2592.8" y1="209" x2="2592.8" y2="257" stroke="#e00000" stroke-width="1.1"/>
<line x1="2561.5" y1="257" x2="2651" y2="257" stroke="#e00000" stroke-width="1.1"/>
<rect x="2651" y="197.5" width="9.5" height="10.2" stroke="#e00000" stroke-width="1.6" fill="none"/>
<rect x="291.6" y="267" width="2329" height="17.5" stroke="#008080" stroke-width="2.4" fill="none"/>
<rect x="256.8" y="284.5" width="93.9" height="301.5" fill="url(#rc)"/>
<rect x="210" y="586" width="187.7" height="59" fill="url(#bc)"/>
<line x1="256.8" y1="309" x2="256.8" y2="586" stroke="#1c0000" stroke-width="4.0"/>
<line x1="350.7" y1="284.5" x2="350.7" y2="586" stroke="#1c0000" stroke-width="4.0"/>
<path d="M256.8 586 L210 586 L210 645 L397.7 645 L397.7 586 L350.7 586" stroke="#1c0000" stroke-width="4.0" fill="none" stroke-linejoin="miter" stroke-linecap="square"/>
<rect x="970" y="284.5" width="70.3" height="301.5" fill="url(#rc)"/>
<rect x="921" y="586" width="166.4" height="59" fill="url(#bc)"/>
<line x1="970" y1="284.5" x2="970" y2="586" stroke="#1c0000" stroke-width="4.0"/>
<line x1="1040.3" y1="284.5" x2="1040.3" y2="586" stroke="#1c0000" stroke-width="4.0"/>
<path d="M970 586 L921 586 L921 645 L1087.4 645 L1087.4 586 L1040.3 586" stroke="#1c0000" stroke-width="4.0" fill="none" stroke-linejoin="miter" stroke-linecap="square"/>
<rect x="1571.7" y="284.5" width="69.3" height="301.5" fill="url(#rc)"/>
<rect x="1524" y="586" width="165.5" height="59" fill="url(#bc)"/>
<line x1="1571.7" y1="284.5" x2="1571.7" y2="586" stroke="#1c0000" stroke-width="4.0"/>
<line x1="1641" y1="284.5" x2="1641" y2="586" stroke="#1c0000" stroke-width="4.0"/>
<path d="M1571.7 586 L1524 586 L1524 645 L1689.5 645 L1689.5 586 L1641 586" stroke="#1c0000" stroke-width="4.0" fill="none" stroke-linejoin="miter" stroke-linecap="square"/>
<rect x="2561.5" y="284.6" width="94.2" height="301.4" fill="url(#rc)"/>
<rect x="2514.4" y="586" width="188.9" height="59" fill="url(#bc)"/>
<line x1="2561.5" y1="284.6" x2="2561.5" y2="586" stroke="#1c0000" stroke-width="4.0"/>
<line x1="2655.7" y1="284.6" x2="2655.7" y2="586" stroke="#1c0000" stroke-width="4.0"/>
<path d="M2561.5 586 L2514.4 586 L2514.4 645 L2703.3 645 L2703.3 586 L2655.7 586" stroke="#1c0000" stroke-width="4.0" fill="none" stroke-linejoin="miter" stroke-linecap="square"/>
<line x1="256.8" y1="284.5" x2="256.8" y2="309" stroke="#e00000" stroke-width="1.4"/>
<line x1="350.7" y1="284.5" x2="970" y2="284.5" stroke="#1c0000" stroke-width="4.0"/>
<line x1="1040.3" y1="284.5" x2="1571.7" y2="284.5" stroke="#1c0000" stroke-width="4.0"/>
<line x1="1641" y1="284.5" x2="2561.5" y2="284.5" stroke="#1c0000" stroke-width="4.0"/>
<rect x="208" y="284.8" width="48.8" height="24.2" fill="url(#ht)"/>
<line x1="208" y1="284.8" x2="251.5" y2="284.8" stroke="#000" stroke-width="1.2"/>
<line x1="208" y1="309" x2="256.8" y2="309" stroke="#1c0000" stroke-width="4.0"/>
<path d="M2655.7 207.7 L3172.5 207.7 L3172.5 218.7" stroke="#000" stroke-width="2.2" fill="none" stroke-linejoin="miter" stroke-linecap="square"/>
<rect x="2623" y="218.7" width="549.5" height="24" fill="url(#sc2)"/>
<path d="M2651 242.7 L2623 242.7 L2623 218.7 L3172.5 218.7 L3172.5 312.4" stroke="#e00000" stroke-width="2" fill="none" stroke-linejoin="miter" stroke-linecap="square"/>
<rect x="3116.7" y="242.7" width="55.8" height="213" fill="url(#rc)"/>
<rect x="3069" y="455.7" width="143" height="48" fill="url(#bcp)"/>
<path d="M2655.7 286 L2655.7 284.6 L2651 284.6 L2651 242.7 L3116.7 242.7 L3116.7 455.7 L3069 455.7 L3069 503.7 L3212 503.7 L3212 455.7 L3163 455.7 L3163 312.4 L3173.4 312.4 L3224 343.7" stroke="#1c0000" stroke-width="4.0" fill="none" stroke-linejoin="miter" stroke-linecap="square"/>
<line x1="3166" y1="222" x2="3166" y2="300" stroke="#e00000" stroke-width="1"/>
<line x1="350.7" y1="168" x2="350.7" y2="284.5" stroke="#008000" stroke-width="1.3"/>
<line x1="350.7" y1="586" x2="350.7" y2="680" stroke="#008000" stroke-width="1.3"/>
<line x1="350.7" y1="680" x2="350.7" y2="703.7" stroke="#000" stroke-width="1.2"/>
<line x1="350.7" y1="703.7" x2="350.7" y2="715.5" stroke="#008000" stroke-width="1.3"/>
<line x1="1040.3" y1="168" x2="1040.3" y2="284.5" stroke="#008000" stroke-width="1.3"/>
<line x1="1040.3" y1="586" x2="1040.3" y2="680" stroke="#008000" stroke-width="1.3"/>
<line x1="1040.3" y1="680" x2="1040.3" y2="703.7" stroke="#000" stroke-width="1.2"/>
<line x1="1040.3" y1="703.7" x2="1040.3" y2="715.5" stroke="#008000" stroke-width="1.3"/>
<line x1="1571.7" y1="168" x2="1571.7" y2="284.5" stroke="#008000" stroke-width="1.3"/>
<line x1="1571.7" y1="586" x2="1571.7" y2="680" stroke="#008000" stroke-width="1.3"/>
<line x1="1571.7" y1="680" x2="1571.7" y2="703.7" stroke="#000" stroke-width="1.2"/>
<line x1="1571.7" y1="703.7" x2="1571.7" y2="715.5" stroke="#008000" stroke-width="1.3"/>
<line x1="2561.5" y1="168" x2="2561.5" y2="284.5" stroke="#008000" stroke-width="1.3"/>
<line x1="2561.5" y1="586" x2="2561.5" y2="680" stroke="#008000" stroke-width="1.3"/>
<line x1="2561.5" y1="680" x2="2561.5" y2="703.7" stroke="#000" stroke-width="1.2"/>
<line x1="2561.5" y1="703.7" x2="2561.5" y2="715.5" stroke="#008000" stroke-width="1.3"/>
<line x1="1291" y1="168" x2="1291" y2="197" stroke="#008000" stroke-width="1.3"/>
<line x1="1414" y1="163.4" x2="1414" y2="197.8" stroke="#000" stroke-width="1.2"/>
<line x1="1414" y1="163.4" x2="1497" y2="163.4" stroke="#000" stroke-width="1.2"/>
<path d="M1405.5 183.8 L1414 197.8 L1422.5 183.8" stroke="#000" stroke-width="1.2" fill="none" stroke-linejoin="miter" stroke-linecap="square"/>
<text transform="translate(1427.5 159.8) scale(0.7760 1)" font-size="31" font-style="normal" font-weight="normal" fill="#000">0,000</text>
<line x1="1362" y1="319.5" x2="1362" y2="287" stroke="#000" stroke-width="1.2"/>
<line x1="1362" y1="319.5" x2="1445" y2="319.5" stroke="#000" stroke-width="1.2"/>
<path d="M1353.5 301 L1362 287 L1370.5 301" stroke="#000" stroke-width="1.2" fill="none" stroke-linejoin="miter" stroke-linecap="square"/>
<text transform="translate(1375.4 344) scale(0.7760 1)" font-size="31" font-style="normal" font-weight="normal" fill="#000">-0,370</text>
<line x1="2290" y1="186.4" x2="2290" y2="222" stroke="#000" stroke-width="1.2"/>
<line x1="2290" y1="186.4" x2="2373" y2="186.4" stroke="#000" stroke-width="1.2"/>
<path d="M2281.5 208 L2290 222 L2298.5 208" stroke="#000" stroke-width="1.2" fill="none" stroke-linejoin="miter" stroke-linecap="square"/>
<text transform="translate(2303.4 182.8) scale(0.7760 1)" font-size="31" font-style="normal" font-weight="normal" fill="#000">-0,100</text>
<line x1="2285" y1="301.3" x2="2285" y2="267" stroke="#000" stroke-width="1.2"/>
<line x1="2285" y1="301.3" x2="2368" y2="301.3" stroke="#000" stroke-width="1.2"/>
<path d="M2276.5 281 L2285 267 L2293.5 281" stroke="#000" stroke-width="1.2" fill="none" stroke-linejoin="miter" stroke-linecap="square"/>
<text transform="translate(2298.4 325.8) scale(0.7760 1)" font-size="31" font-style="normal" font-weight="normal" fill="#000">-0,290</text>
<line x1="436.4" y1="551.4" x2="436.4" y2="586.3" stroke="#000" stroke-width="1.2"/>
<line x1="436.4" y1="551.4" x2="519.4" y2="551.4" stroke="#000" stroke-width="1.2"/>
<path d="M427.9 572.3 L436.4 586.3 L444.9 572.3" stroke="#000" stroke-width="1.2" fill="none" stroke-linejoin="miter" stroke-linecap="square"/>
<text transform="translate(449.8 547.8) scale(0.7760 1)" font-size="31" font-style="normal" font-weight="normal" fill="#000">-1,650</text>
<line x1="412" y1="586.3" x2="447" y2="586.3" stroke="#000" stroke-width="1.2"/>
<line x1="533.3" y1="609.5" x2="533.3" y2="645.4" stroke="#000" stroke-width="1.2"/>
<line x1="533.3" y1="609.5" x2="616.3" y2="609.5" stroke="#000" stroke-width="1.2"/>
<path d="M524.8 631.4 L533.3 645.4 L541.8 631.4" stroke="#000" stroke-width="1.2" fill="none" stroke-linejoin="miter" stroke-linecap="square"/>
<text transform="translate(546.7 605.9) scale(0.7760 1)" font-size="31" font-style="normal" font-weight="normal" fill="#000">-1,900</text>
<line x1="412" y1="645.4" x2="544" y2="645.4" stroke="#000" stroke-width="1.2"/>
<line x1="2427.5" y1="551" x2="2427.5" y2="585.3" stroke="#000" stroke-width="1.2"/>
<line x1="2427.5" y1="551" x2="2510.5" y2="551" stroke="#000" stroke-width="1.2"/>
<path d="M2419 571.3 L2427.5 585.3 L2436 571.3" stroke="#000" stroke-width="1.2" fill="none" stroke-linejoin="miter" stroke-linecap="square"/>
<text transform="translate(2440.9 547.4) scale(0.7760 1)" font-size="31" font-style="normal" font-weight="normal" fill="#000">-1,650</text>
<line x1="2415.5" y1="585.3" x2="2500.5" y2="585.3" stroke="#000" stroke-width="1.2"/>
<line x1="2292.5" y1="609.3" x2="2292.5" y2="645" stroke="#000" stroke-width="1.2"/>
<line x1="2292.5" y1="609.3" x2="2375.5" y2="609.3" stroke="#000" stroke-width="1.2"/>
<path d="M2284 631 L2292.5 645 L2301 631" stroke="#000" stroke-width="1.2" fill="none" stroke-linejoin="miter" stroke-linecap="square"/>
<text transform="translate(2305.9 605.7) scale(0.7760 1)" font-size="31" font-style="normal" font-weight="normal" fill="#000">-1,900</text>
<line x1="2282" y1="645" x2="2500.5" y2="645" stroke="#000" stroke-width="1.2"/>
<line x1="2864.3" y1="172" x2="2864.3" y2="207.7" stroke="#000" stroke-width="1.2"/>
<line x1="2864.3" y1="172" x2="2947.3" y2="172" stroke="#000" stroke-width="1.2"/>
<path d="M2855.8 193.7 L2864.3 207.7 L2872.8 193.7" stroke="#000" stroke-width="1.2" fill="none" stroke-linejoin="miter" stroke-linecap="square"/>
<text transform="translate(2877.7 168.4) scale(0.7760 1)" font-size="31" font-style="normal" font-weight="normal" fill="#000">-0,040</text>
<line x1="2787.4" y1="277.8" x2="2787.4" y2="242.7" stroke="#000" stroke-width="1.2"/>
<line x1="2787.4" y1="277.8" x2="2870.4" y2="277.8" stroke="#000" stroke-width="1.2"/>
<path d="M2778.9 256.7 L2787.4 242.7 L2795.9 256.7" stroke="#000" stroke-width="1.2" fill="none" stroke-linejoin="miter" stroke-linecap="square"/>
<text transform="translate(2800.8 302.3) scale(0.7760 1)" font-size="31" font-style="normal" font-weight="normal" fill="#000">-0,190</text>
<line x1="2946.5" y1="421.5" x2="2946.5" y2="456.6" stroke="#000" stroke-width="1.2"/>
<line x1="2946.5" y1="421.5" x2="3029.5" y2="421.5" stroke="#000" stroke-width="1.2"/>
<path d="M2938 442.6 L2946.5 456.6 L2955 442.6" stroke="#000" stroke-width="1.2" fill="none" stroke-linejoin="miter" stroke-linecap="square"/>
<text transform="translate(2959.9 417.9) scale(0.7760 1)" font-size="31" font-style="normal" font-weight="normal" fill="#000">-1,100</text>
<line x1="2936.4" y1="456.6" x2="3055.7" y2="456.6" stroke="#000" stroke-width="1.2"/>
<line x1="2832" y1="467.7" x2="2832" y2="503.7" stroke="#000" stroke-width="1.2"/>
<line x1="2832" y1="467.7" x2="2915" y2="467.7" stroke="#000" stroke-width="1.2"/>
<path d="M2823.5 489.7 L2832 503.7 L2840.5 489.7" stroke="#000" stroke-width="1.2" fill="none" stroke-linejoin="miter" stroke-linecap="square"/>
<text transform="translate(2845.4 464.1) scale(0.7760 1)" font-size="31" font-style="normal" font-weight="normal" fill="#000">-1,300</text>
<line x1="2822.5" y1="503.7" x2="3055.7" y2="503.7" stroke="#000" stroke-width="1.2"/>
<line x1="340.9" y1="692.5" x2="2571.6" y2="692.5" stroke="#000" stroke-width="1.2"/>
<line x1="343.7" y1="699" x2="357.7" y2="686" stroke="#000" stroke-width="1.3"/>
<line x1="1033.3" y1="699" x2="1047.3" y2="686" stroke="#000" stroke-width="1.3"/>
<line x1="1564.7" y1="699" x2="1578.7" y2="686" stroke="#000" stroke-width="1.3"/>
<line x1="2554.5" y1="699" x2="2568.5" y2="686" stroke="#000" stroke-width="1.3"/>
<text transform="translate(664.7 716.5) scale(0.7760 1)" font-size="31" font-style="normal" font-weight="normal" fill="#000">2 930</text>
<text transform="translate(1274.3 716.5) scale(0.7760 1)" font-size="31" font-style="normal" font-weight="normal" fill="#000">2 260</text>
<text transform="translate(2035.8 716.5) scale(0.7760 1)" font-size="31" font-style="normal" font-weight="normal" fill="#000">4 210</text>
<circle cx="350.7" cy="743.5" r="28" stroke="#0000f0" stroke-width="2.3" fill="none"/>
<text transform="translate(340.4 757.9) scale(0.7400 1)" font-size="41.9" font-style="normal" font-weight="normal" fill="#000">А</text>
<circle cx="1040.3" cy="743.5" r="28" stroke="#0000f0" stroke-width="2.3" fill="none"/>
<text transform="translate(1029.6 757.9) scale(0.7400 1)" font-size="41.9" font-style="normal" font-weight="normal" fill="#000">Б</text>
<circle cx="1571.7" cy="743.5" r="28" stroke="#0000f0" stroke-width="2.3" fill="none"/>
<text transform="translate(1562.3 757.9) scale(0.7400 1)" font-size="41.9" font-style="normal" font-weight="normal" fill="#000">Г</text>
<circle cx="2561.5" cy="743.5" r="28" stroke="#0000f0" stroke-width="2.3" fill="none"/>
<text transform="translate(2550.5 757.9) scale(0.7400 1)" font-size="41.9" font-style="normal" font-weight="normal" fill="#000">Е</text>
<path d="M1770.4 198.5 L1765.2 215.5 L1775.6 215.5 Z" fill="#333300"/>
<line x1="1770.4" y1="205" x2="1770.4" y2="574.2" stroke="#e00000" stroke-width="1.3"/>
<line x1="1770.4" y1="412.3" x2="2262.7" y2="412.3" stroke="#e00000" stroke-width="1.3"/>
<line x1="1770.4" y1="453.1" x2="2262.7" y2="453.1" stroke="#e00000" stroke-width="1.3"/>
<line x1="1770.4" y1="493.5" x2="2262.7" y2="493.5" stroke="#e00000" stroke-width="1.3"/>
<line x1="1770.4" y1="533.9" x2="2262.7" y2="533.9" stroke="#e00000" stroke-width="1.3"/>
<line x1="1770.4" y1="574.2" x2="2262.7" y2="574.2" stroke="#e00000" stroke-width="1.3"/>
<text transform="translate(1790.9 402.6) scale(0.8187 1)" font-size="34.8" font-style="italic" font-weight="normal" fill="#0000f0" stroke="#0000f0" stroke-width="0.9">- Чистові поли 100 мм</text>
<text transform="translate(1790.9 443.4) scale(0.8198 1)" font-size="34.8" font-style="italic" font-weight="normal" fill="#0000f0" stroke="#0000f0" stroke-width="0.9">- Гідроізоляція Техноніколь ЕПП</text>
<text transform="translate(1790.9 483.4) scale(0.8157 1)" font-size="34.8" font-style="italic" font-weight="normal" fill="#0000f0" stroke="#0000f0" stroke-width="0.9">- Керамзітобетон 190 мм</text>
<text transform="translate(1790.9 523.1) scale(0.8196 1)" font-size="34.8" font-style="italic" font-weight="normal" fill="#0000f0" stroke="#0000f0" stroke-width="0.9">- Гідроізоляція ЦР-64</text>
<text transform="translate(1790.9 563.4) scale(0.8178 1)" font-size="34.8" font-style="italic" font-weight="normal" fill="#0000f0" stroke="#0000f0" stroke-width="0.9">- Стяжка 80 мм</text>
<text transform="translate(1099.4 857) scale(0.8243 1)" font-size="44.3" font-style="italic" font-weight="normal" fill="#0000f0">Розріз  4 - 4</text>
<rect x="496.5" y="1158.8" width="1340" height="9.8" fill="url(#ht)"/>
<clipPath id="g4496"><rect x="496.5" y="1168.6" width="771.3" height="35.8"/></clipPath>
<rect x="496.5" y="1168.6" width="771.3" height="35.8" fill="url(#gv4)" clip-path="url(#g4496)"/>
<clipPath id="g41357"><rect x="1357.6" y="1168.6" width="478.9" height="35.8"/></clipPath>
<rect x="1357.6" y="1168.6" width="478.9" height="35.8" fill="url(#gv4)" clip-path="url(#g41357)"/>
<clipPath id="g4w"><rect x="1267.8" y="1168.6" width="89.8" height="14.3"/></clipPath>
<rect x="1267.8" y="1168.6" width="89.8" height="14.3" fill="url(#gv4)" clip-path="url(#g4w)"/>
<rect x="496.5" y="1204.4" width="771.3" height="18.8" fill="url(#scl)"/>
<rect x="1357.6" y="1204.4" width="478.9" height="18.8" fill="url(#scl)"/>
<line x1="496.5" y1="1158.8" x2="1836.5" y2="1158.8" stroke="#000" stroke-width="2.6"/>
<line x1="496.5" y1="1168.6" x2="1836.5" y2="1168.6" stroke="#000" stroke-width="2.2"/>
<line x1="496.5" y1="1204.4" x2="1267.8" y2="1204.4" stroke="#000" stroke-width="1.3"/>
<line x1="1357.6" y1="1204.4" x2="1836.5" y2="1204.4" stroke="#000" stroke-width="1.3"/>
<line x1="496.5" y1="1223.2" x2="1267.8" y2="1223.2" stroke="#000" stroke-width="1.3"/>
<line x1="1357.6" y1="1223.2" x2="1836.5" y2="1223.2" stroke="#000" stroke-width="1.3"/>
<line x1="1267.8" y1="1182.9" x2="1267.8" y2="1204.4" stroke="#000" stroke-width="1.3"/>
<line x1="1357.6" y1="1182.9" x2="1357.6" y2="1204.4" stroke="#000" stroke-width="1.3"/>
<rect x="400.4" y="889.6" width="96.1" height="268.4" fill="url(#rd)"/>
<line x1="400.4" y1="889.6" x2="400.4" y2="1158" stroke="#1c0000" stroke-width="3"/>
<line x1="496.5" y1="889.6" x2="496.5" y2="1158" stroke="#1c0000" stroke-width="3"/>
<line x1="400.4" y1="1158" x2="496.5" y2="1158" stroke="#1c0000" stroke-width="3.5"/>
<rect x="396" y="1158" width="100.5" height="24.7" stroke="#e00000" stroke-width="2" fill="none"/>
<line x1="432" y1="1158" x2="432" y2="1182.7" stroke="#e00000" stroke-width="1.1"/>
<path d="M401 1162 L405 1166 L401 1170 L405 1175 L401 1179" stroke="#e00000" stroke-width="1" fill="none" stroke-linejoin="miter" stroke-linecap="square"/>
<rect x="400.4" y="1182.7" width="96.1" height="154.7" fill="url(#rc)"/>
<rect x="352.8" y="1337.4" width="192.2" height="60.1" fill="url(#bc4)"/>
<path d="M400.4 1337.4 L400.4 1182.7 L496.5 1182.7 L496.5 1337.4" stroke="#b80000" stroke-width="2.4" fill="none" stroke-linejoin="miter" stroke-linecap="square"/>
<path d="M400.4 1337.4 L352.8 1337.4 L352.8 1397.5 L545 1397.5 L545 1337.4 L496.5 1337.4" stroke="#b80000" stroke-width="2.4" fill="none" stroke-linejoin="miter" stroke-linecap="square"/>
<rect x="299.5" y="1182.7" width="100.9" height="22.6" fill="url(#ht)"/>
<line x1="299.5" y1="1182.7" x2="400.4" y2="1182.7" stroke="#000" stroke-width="1.2"/>
<line x1="299.5" y1="1205.3" x2="400.4" y2="1205.3" stroke="#000" stroke-width="1.2"/>
<line x1="1267.8" y1="889.6" x2="1267.8" y2="1158.8" stroke="#000" stroke-width="1.3"/>
<line x1="1358.4" y1="889.6" x2="1358.4" y2="1158.8" stroke="#000" stroke-width="1.3"/>
<line x1="1291.5" y1="889.6" x2="1291.5" y2="1158.8" stroke="#e00000" stroke-width="1.2"/>
<line x1="1301.4" y1="889.6" x2="1301.4" y2="1158.8" stroke="#e00000" stroke-width="1.2"/>
<line x1="1305.5" y1="889.6" x2="1305.5" y2="1158.8" stroke="#e00000" stroke-width="1.2"/>
<rect x="1267.8" y="1182.9" width="89.8" height="154.5" fill="url(#rc)"/>
<rect x="1214.8" y="1337.4" width="190.8" height="60.1" fill="url(#bc4)"/>
<path d="M1267.8 1337.4 L1267.8 1182.9 L1357.6 1182.9 L1357.6 1337.4" stroke="#b80000" stroke-width="2.4" fill="none" stroke-linejoin="miter" stroke-linecap="square"/>
<path d="M1267.8 1337.4 L1214.8 1337.4 L1214.8 1397.5 L1405.6 1397.5 L1405.6 1337.4 L1357.6 1337.4" stroke="#b80000" stroke-width="2.4" fill="none" stroke-linejoin="miter" stroke-linecap="square"/>
<path d="M1502 1158.3 L1502 1128 L1568.9 1128 L1568.9 1085.2 L1635.8 1085.2 L1635.8 1041.9 L1703 1041.9 L1703 999 L1770 999 L1770 955.1 L1836.5 955.1 L1836.5 1001.5 L1590.8 1158.3 Z" fill="url(#stc)"/>
<rect x="1495" y="1116.1" width="73.9" height="11.9" fill="url(#htr)"/>
<rect x="1495" y="1116.1" width="73.9" height="11.9" stroke="#000" stroke-width="2.4" fill="none"/>
<rect x="1562" y="1073.3" width="73.8" height="11.9" fill="url(#htr)"/>
<rect x="1562" y="1073.3" width="73.8" height="11.9" stroke="#000" stroke-width="2.4" fill="none"/>
<rect x="1628.9" y="1029.8" width="74.1" height="12.1" fill="url(#htr)"/>
<rect x="1628.9" y="1029.8" width="74.1" height="12.1" stroke="#000" stroke-width="2.4" fill="none"/>
<rect x="1695.8" y="986.9" width="74.2" height="12.1" fill="url(#htr)"/>
<rect x="1695.8" y="986.9" width="74.2" height="12.1" stroke="#000" stroke-width="2.4" fill="none"/>
<rect x="1762.7" y="943" width="73.8" height="12.1" fill="url(#htr)"/>
<rect x="1762.7" y="943" width="73.8" height="12.1" stroke="#000" stroke-width="2.4" fill="none"/>
<line x1="1502" y1="1128" x2="1502" y2="1158.3" stroke="#000" stroke-width="2.6"/>
<line x1="1568.9" y1="1085.2" x2="1568.9" y2="1116.1" stroke="#000" stroke-width="2.6"/>
<line x1="1635.8" y1="1041.9" x2="1635.8" y2="1073.3" stroke="#000" stroke-width="2.6"/>
<line x1="1703" y1="999" x2="1703" y2="1029.8" stroke="#000" stroke-width="2.6"/>
<line x1="1770" y1="955.1" x2="1770" y2="986.9" stroke="#000" stroke-width="2.6"/>
<line x1="1590.8" y1="1158.3" x2="1836.5" y2="1001.5" stroke="#000" stroke-width="2.8"/>
<rect x="1836.5" y="943.2" width="502.7" height="23.2" fill="url(#ht)"/>
<line x1="1836.5" y1="966.4" x2="2339.2" y2="966.4" stroke="#000" stroke-width="2.4"/>
<rect x="2399.3" y="943.2" width="562.5" height="23.2" fill="url(#ht)"/>
<line x1="2399.3" y1="966.4" x2="2961.8" y2="966.4" stroke="#000" stroke-width="2.4"/>
<clipPath id="g31897"><rect x="1897.1" y="966.4" width="442.1" height="46.1"/></clipPath>
<rect x="1897.1" y="966.4" width="442.1" height="46.1" fill="url(#gv3)" clip-path="url(#g31897)"/>
<clipPath id="g32399"><rect x="2399.3" y="966.4" width="562.5" height="46.1"/></clipPath>
<rect x="2399.3" y="966.4" width="562.5" height="46.1" fill="url(#gv3)" clip-path="url(#g32399)"/>
<line x1="1897.1" y1="966.4" x2="1897.1" y2="1012.5" stroke="#000" stroke-width="1.3"/>
<rect x="1836.5" y="1012.5" width="1185.3" height="19" fill="url(#sc3)"/>
<line x1="1836.5" y1="943.2" x2="2961.8" y2="943.2" stroke="#000" stroke-width="2.6"/>
<line x1="1836.5" y1="966.4" x2="1836.5" y2="1337.4" stroke="#b80000" stroke-width="2.4"/>
<line x1="1836.5" y1="1003.2" x2="1897.1" y2="1003.2" stroke="#e00000" stroke-width="1.1"/>
<line x1="1869.3" y1="1003.2" x2="1869.3" y2="1012.5" stroke="#e00000" stroke-width="1.1"/>
<rect x="1836.5" y="1012.5" width="1185.3" height="19" stroke="#008080" stroke-width="2.6" fill="none"/>
<rect x="1836.5" y="1031.5" width="72.1" height="305.9" fill="url(#rc)"/>
<rect x="1788.6" y="1337.4" width="168.1" height="60.1" fill="url(#bc4)"/>
<path d="M1836.5 1337.4 L1836.5 1031.5" stroke="#b80000" stroke-width="2.4" fill="none" stroke-linejoin="miter" stroke-linecap="square"/>
<path d="M1908.6 1031.5 L1908.6 1337.4" stroke="#b80000" stroke-width="2.4" fill="none" stroke-linejoin="miter" stroke-linecap="square"/>
<path d="M1836.5 1337.4 L1788.6 1337.4 L1788.6 1397.5 L1956.7 1397.5 L1956.7 1337.4 L1908.6 1337.4" stroke="#b80000" stroke-width="2.4" fill="none" stroke-linejoin="miter" stroke-linecap="square"/>
<line x1="1836.5" y1="1158.8" x2="1836.5" y2="1223.2" stroke="#000" stroke-width="2"/>
<line x1="2339.2" y1="889.6" x2="2339.2" y2="966.4" stroke="#1c0000" stroke-width="3"/>
<line x1="2399.3" y1="889.6" x2="2399.3" y2="966.4" stroke="#1c0000" stroke-width="3"/>
<line x1="2347.4" y1="889.6" x2="2347.4" y2="943.2" stroke="#e00000" stroke-width="1.2"/>
<line x1="2339.2" y1="943.2" x2="2399.3" y2="943.2" stroke="#e00000" stroke-width="1.2"/>
<rect x="2339.2" y="966.4" width="60.1" height="46.1" stroke="#e00000" stroke-width="1.6" fill="none"/>
<line x1="2339.2" y1="1003.5" x2="2399.3" y2="1003.5" stroke="#e00000" stroke-width="1.1"/>
<rect x="2339.2" y="1031.5" width="72.1" height="305.9" fill="url(#rc)"/>
<rect x="2291.1" y="1337.4" width="169.2" height="60.1" fill="url(#bc4)"/>
<path d="M2339.2 1337.4 L2339.2 1031.5 L2411.3 1031.5 L2411.3 1337.4" stroke="#b80000" stroke-width="2.4" fill="none" stroke-linejoin="miter" stroke-linecap="square"/>
<path d="M2339.2 1337.4 L2291.1 1337.4 L2291.1 1397.5 L2460.3 1397.5 L2460.3 1337.4 L2411.3 1337.4" stroke="#b80000" stroke-width="2.4" fill="none" stroke-linejoin="miter" stroke-linecap="square"/>
<rect x="2961.8" y="889.6" width="97.1" height="53.8" fill="url(#rd)"/>
<line x1="2961.8" y1="889.6" x2="2961.8" y2="943.4" stroke="#1c0000" stroke-width="3"/>
<line x1="3058.9" y1="889.6" x2="3058.9" y2="943.4" stroke="#1c0000" stroke-width="3"/>
<rect x="2961.8" y="943.4" width="100.9" height="87.4" stroke="#e00000" stroke-width="2.2" fill="none"/>
<line x1="3007" y1="943.4" x2="3007" y2="1003.5" stroke="#e00000" stroke-width="1.1"/>
<line x1="2961.8" y1="1003.5" x2="3054" y2="1003.5" stroke="#e00000" stroke-width="1.1"/>
<line x1="3054" y1="943.4" x2="3054" y2="1030.8" stroke="#e00000" stroke-width="1.1"/>
<line x1="3054" y1="975" x2="3062.7" y2="975" stroke="#e00000" stroke-width="1"/>
<line x1="3054" y1="995" x2="3062.7" y2="995" stroke="#e00000" stroke-width="1"/>
<line x1="3054" y1="1015" x2="3062.7" y2="1015" stroke="#e00000" stroke-width="1"/>
<rect x="2961.8" y="1031.5" width="96.2" height="305.9" fill="url(#rc)"/>
<rect x="2914.7" y="1337.4" width="191.3" height="60.1" fill="url(#bc4)"/>
<path d="M2961.8 1337.4 L2961.8 1031.5 L3058 1031.5 L3058 1337.4" stroke="#b80000" stroke-width="2.4" fill="none" stroke-linejoin="miter" stroke-linecap="square"/>
<path d="M2961.8 1337.4 L2914.7 1337.4 L2914.7 1397.5 L3106 1397.5 L3106 1337.4 L3058 1337.4" stroke="#b80000" stroke-width="2.4" fill="none" stroke-linejoin="miter" stroke-linecap="square"/>
<rect x="3058" y="1030.8" width="105.6" height="24" fill="url(#ht)"/>
<line x1="3058" y1="1030.8" x2="3163.6" y2="1030.8" stroke="#000" stroke-width="1.2"/>
<line x1="3058" y1="1054.8" x2="3163.6" y2="1054.8" stroke="#000" stroke-width="1.2"/>
<circle cx="457" cy="1197" r="85.3" stroke="#000" stroke-width="1.2" fill="none"/>
<circle cx="1310" cy="1216.3" r="86" stroke="#000" stroke-width="1.2" fill="none"/>
<circle cx="2370.4" cy="997.7" r="85.8" stroke="#000" stroke-width="1.2" fill="none"/>
<circle cx="3014.6" cy="996.2" r="86.5" stroke="#000" stroke-width="1.2" fill="none"/>
<text transform="translate(332.1 1030) scale(0.8455 1)" font-size="34.4" font-style="italic" font-weight="normal" fill="#000">П2</text>
<path d="M378.8 1017 L421 1017 L438.8 1111.6" stroke="#e00000" stroke-width="1.2" fill="none" stroke-linejoin="miter" stroke-linecap="square"/>
<text transform="translate(1448.9 1010.7) scale(0.8576 1)" font-size="35.1" font-style="italic" font-weight="normal" fill="#000">П1</text>
<path d="M1438.3 998.6 L1400.8 998.6 L1343 1138" stroke="#e00000" stroke-width="1.2" fill="none" stroke-linejoin="miter" stroke-linecap="square"/>
<text transform="translate(2505.1 917) scale(0.8833 1)" font-size="34.9" font-style="italic" font-weight="normal" fill="#000">П1</text>
<path d="M2496.3 904 L2458 904 L2430.5 933.8" stroke="#e00000" stroke-width="1.2" fill="none" stroke-linejoin="miter" stroke-linecap="square"/>
<text transform="translate(2826.1 916) scale(0.7899 1)" font-size="37.8" font-style="italic" font-weight="normal" fill="#000">П2</text>
<path d="M2873 902.5 L2906 902.5 L2950.7 940" stroke="#e00000" stroke-width="1.2" fill="none" stroke-linejoin="miter" stroke-linecap="square"/>
<line x1="496.5" y1="938.6" x2="496.5" y2="1440" stroke="#008000" stroke-width="1.3"/>
<line x1="496.5" y1="1440" x2="496.5" y2="1468.5" stroke="#000" stroke-width="1.2"/>
<line x1="1358.4" y1="924" x2="1358.4" y2="1440" stroke="#008000" stroke-width="1.3"/>
<line x1="1358.4" y1="1440" x2="1358.4" y2="1468.5" stroke="#000" stroke-width="1.2"/>
<line x1="2339.2" y1="938.6" x2="2339.2" y2="1440" stroke="#008000" stroke-width="1.3"/>
<line x1="2339.2" y1="1440" x2="2339.2" y2="1468.5" stroke="#000" stroke-width="1.2"/>
<line x1="2961.8" y1="943" x2="2961.8" y2="1440" stroke="#008000" stroke-width="1.3"/>
<line x1="2961.8" y1="1440" x2="2961.8" y2="1468.5" stroke="#000" stroke-width="1.2"/>
<line x1="310.5" y1="1146" x2="310.5" y2="1182.7" stroke="#000" stroke-width="1.2"/>
<line x1="310.5" y1="1146" x2="393.5" y2="1146" stroke="#000" stroke-width="1.2"/>
<path d="M302 1168.7 L310.5 1182.7 L319 1168.7" stroke="#000" stroke-width="1.2" fill="none" stroke-linejoin="miter" stroke-linecap="square"/>
<text transform="translate(323.9 1142.4) scale(0.7760 1)" font-size="31" font-style="normal" font-weight="normal" fill="#000">-1,000</text>
<line x1="594" y1="1302.4" x2="594" y2="1337.4" stroke="#000" stroke-width="1.2"/>
<line x1="594" y1="1302.4" x2="677" y2="1302.4" stroke="#000" stroke-width="1.2"/>
<path d="M585.5 1323.4 L594 1337.4 L602.5 1323.4" stroke="#000" stroke-width="1.2" fill="none" stroke-linejoin="miter" stroke-linecap="square"/>
<text transform="translate(607.4 1298.8) scale(0.7760 1)" font-size="31" font-style="normal" font-weight="normal" fill="#000">-1,650</text>
<line x1="558" y1="1337.4" x2="606" y2="1337.4" stroke="#000" stroke-width="1.2"/>
<line x1="681.5" y1="1362.4" x2="681.5" y2="1397.5" stroke="#000" stroke-width="1.2"/>
<line x1="681.5" y1="1362.4" x2="764.5" y2="1362.4" stroke="#000" stroke-width="1.2"/>
<path d="M673 1383.5 L681.5 1397.5 L690 1383.5" stroke="#000" stroke-width="1.2" fill="none" stroke-linejoin="miter" stroke-linecap="square"/>
<text transform="translate(694.9 1358.8) scale(0.7760 1)" font-size="31" font-style="normal" font-weight="normal" fill="#000">-1,900</text>
<line x1="558" y1="1397.5" x2="692.6" y2="1397.5" stroke="#000" stroke-width="1.2"/>
<line x1="910.2" y1="1240.4" x2="910.2" y2="1204.4" stroke="#000" stroke-width="1.2"/>
<line x1="910.2" y1="1240.4" x2="993.2" y2="1240.4" stroke="#000" stroke-width="1.2"/>
<path d="M901.7 1218.4 L910.2 1204.4 L918.7 1218.4" stroke="#000" stroke-width="1.2" fill="none" stroke-linejoin="miter" stroke-linecap="square"/>
<text transform="translate(923.6 1264.9) scale(0.7760 1)" font-size="31" font-style="normal" font-weight="normal" fill="#000">-1,090</text>
<line x1="1104.4" y1="1146.3" x2="1104.4" y2="1181.9" stroke="#000" stroke-width="1.2"/>
<line x1="1104.4" y1="1146.3" x2="1187.4" y2="1146.3" stroke="#000" stroke-width="1.2"/>
<path d="M1095.9 1167.9 L1104.4 1181.9 L1112.9 1167.9" stroke="#000" stroke-width="1.2" fill="none" stroke-linejoin="miter" stroke-linecap="square"/>
<text transform="translate(1117.8 1142.7) scale(0.7760 1)" font-size="31" font-style="normal" font-weight="normal" fill="#000">-1,000</text>
<line x1="1093" y1="1181.9" x2="1254" y2="1181.9" stroke="#000" stroke-width="1.2"/>
<line x1="1387.8" y1="1122.6" x2="1387.8" y2="1158.8" stroke="#000" stroke-width="1.2"/>
<line x1="1387.8" y1="1122.6" x2="1470.8" y2="1122.6" stroke="#000" stroke-width="1.2"/>
<path d="M1379.3 1144.8 L1387.8 1158.8 L1396.3 1144.8" stroke="#000" stroke-width="1.2" fill="none" stroke-linejoin="miter" stroke-linecap="square"/>
<text transform="translate(1401.2 1119) scale(0.7760 1)" font-size="31" font-style="normal" font-weight="normal" fill="#000">-0,900</text>
<line x1="1459.9" y1="1259" x2="1459.9" y2="1223.2" stroke="#000" stroke-width="1.2"/>
<line x1="1459.9" y1="1259" x2="1542.9" y2="1259" stroke="#000" stroke-width="1.2"/>
<path d="M1451.4 1237.2 L1459.9 1223.2 L1468.4 1237.2" stroke="#000" stroke-width="1.2" fill="none" stroke-linejoin="miter" stroke-linecap="square"/>
<text transform="translate(1473.3 1283.5) scale(0.7760 1)" font-size="31" font-style="normal" font-weight="normal" fill="#000">-1,170</text>
<line x1="1948.5" y1="907.3" x2="1948.5" y2="943.2" stroke="#000" stroke-width="1.2"/>
<line x1="1948.5" y1="907.3" x2="2031.5" y2="907.3" stroke="#000" stroke-width="1.2"/>
<path d="M1940 929.2 L1948.5 943.2 L1957 929.2" stroke="#000" stroke-width="1.2" fill="none" stroke-linejoin="miter" stroke-linecap="square"/>
<text transform="translate(1962 903.7) scale(0.7760 1)" font-size="31" font-style="normal" font-weight="normal" fill="#000">0,000</text>
<line x1="2170.5" y1="931.4" x2="2170.5" y2="966.4" stroke="#000" stroke-width="1.2"/>
<line x1="2170.5" y1="931.4" x2="2253.5" y2="931.4" stroke="#000" stroke-width="1.2"/>
<path d="M2162 952.4 L2170.5 966.4 L2179 952.4" stroke="#000" stroke-width="1.2" fill="none" stroke-linejoin="miter" stroke-linecap="square"/>
<text transform="translate(2183.9 927.8) scale(0.7760 1)" font-size="31" font-style="normal" font-weight="normal" fill="#000">-0,100</text>
<line x1="2500.2" y1="1066.9" x2="2500.2" y2="1031.5" stroke="#000" stroke-width="1.2"/>
<line x1="2500.2" y1="1066.9" x2="2583.2" y2="1066.9" stroke="#000" stroke-width="1.2"/>
<path d="M2491.7 1045.5 L2500.2 1031.5 L2508.7 1045.5" stroke="#000" stroke-width="1.2" fill="none" stroke-linejoin="miter" stroke-linecap="square"/>
<text transform="translate(2513.6 1091.4) scale(0.7760 1)" font-size="31" font-style="normal" font-weight="normal" fill="#000">-0,370</text>
<line x1="2621.3" y1="1047.7" x2="2621.3" y2="1013" stroke="#000" stroke-width="1.2"/>
<line x1="2621.3" y1="1047.7" x2="2704.3" y2="1047.7" stroke="#000" stroke-width="1.2"/>
<path d="M2612.8 1027 L2621.3 1013 L2629.8 1027" stroke="#000" stroke-width="1.2" fill="none" stroke-linejoin="miter" stroke-linecap="square"/>
<text transform="translate(2634.7 1072.2) scale(0.7760 1)" font-size="31" font-style="normal" font-weight="normal" fill="#000">-0,290</text>
<line x1="2487.7" y1="1302.4" x2="2487.7" y2="1337.4" stroke="#000" stroke-width="1.2"/>
<line x1="2487.7" y1="1302.4" x2="2570.7" y2="1302.4" stroke="#000" stroke-width="1.2"/>
<path d="M2479.2 1323.4 L2487.7 1337.4 L2496.2 1323.4" stroke="#000" stroke-width="1.2" fill="none" stroke-linejoin="miter" stroke-linecap="square"/>
<text transform="translate(2501.1 1298.8) scale(0.7760 1)" font-size="31" font-style="normal" font-weight="normal" fill="#000">-1,650</text>
<line x1="2473.7" y1="1337.4" x2="2498.7" y2="1337.4" stroke="#000" stroke-width="1.2"/>
<line x1="2550.6" y1="1362.4" x2="2550.6" y2="1397.5" stroke="#000" stroke-width="1.2"/>
<line x1="2550.6" y1="1362.4" x2="2633.6" y2="1362.4" stroke="#000" stroke-width="1.2"/>
<path d="M2542.1 1383.5 L2550.6 1397.5 L2559.1 1383.5" stroke="#000" stroke-width="1.2" fill="none" stroke-linejoin="miter" stroke-linecap="square"/>
<text transform="translate(2564 1358.8) scale(0.7760 1)" font-size="31" font-style="normal" font-weight="normal" fill="#000">-1,900</text>
<line x1="2473.7" y1="1397.5" x2="2561" y2="1397.5" stroke="#000" stroke-width="1.2"/>
<line x1="486" y1="1446.5" x2="2971.8" y2="1446.5" stroke="#000" stroke-width="1.2"/>
<line x1="489.5" y1="1453" x2="503.5" y2="1440" stroke="#000" stroke-width="1.3"/>
<line x1="1351.4" y1="1453" x2="1365.4" y2="1440" stroke="#000" stroke-width="1.3"/>
<line x1="2332.2" y1="1453" x2="2346.2" y2="1440" stroke="#000" stroke-width="1.3"/>
<line x1="2954.8" y1="1453" x2="2968.8" y2="1440" stroke="#000" stroke-width="1.3"/>
<text transform="translate(896.5 1473.2) scale(0.7760 1)" font-size="31" font-style="normal" font-weight="normal" fill="#000">3 600</text>
<text transform="translate(1820.1 1473.2) scale(0.7760 1)" font-size="31" font-style="normal" font-weight="normal" fill="#000">4 100</text>
<text transform="translate(2621.2 1473.2) scale(0.7760 1)" font-size="31" font-style="normal" font-weight="normal" fill="#000">2 600</text>
<circle cx="496.5" cy="1496" r="27.4" stroke="#0000f0" stroke-width="2.3" fill="none"/>
<text transform="translate(488.2 1510.4) scale(0.7400 1)" font-size="41" font-style="normal" font-weight="normal" fill="#000">4</text>
<circle cx="1358.4" cy="1496" r="27.4" stroke="#0000f0" stroke-width="2.3" fill="none"/>
<text transform="translate(1350.1 1510.4) scale(0.7400 1)" font-size="41" font-style="normal" font-weight="normal" fill="#000">3</text>
<circle cx="2339.2" cy="1496" r="27.4" stroke="#0000f0" stroke-width="2.3" fill="none"/>
<text transform="translate(2330.8 1510.4) scale(0.7400 1)" font-size="41" font-style="normal" font-weight="normal" fill="#000">2</text>
<circle cx="2961.8" cy="1496" r="27.4" stroke="#0000f0" stroke-width="2.3" fill="none"/>
<text transform="translate(2953 1510.4) scale(0.7400 1)" font-size="41" font-style="normal" font-weight="normal" fill="#000">1</text>
<path d="M580.2 1222.5 L575 1205 L585.4 1205 Z" fill="#333300"/>
<line x1="580.2" y1="889" x2="580.2" y2="1206" stroke="#e00000" stroke-width="1.3"/>
<line x1="580.2" y1="945.2" x2="1079.6" y2="945.2" stroke="#e00000" stroke-width="1.3"/>
<line x1="580.2" y1="988.3" x2="1079.6" y2="988.3" stroke="#e00000" stroke-width="1.3"/>
<line x1="580.2" y1="1030.2" x2="1079.6" y2="1030.2" stroke="#e00000" stroke-width="1.3"/>
<line x1="580.2" y1="1072.5" x2="1079.6" y2="1072.5" stroke="#e00000" stroke-width="1.3"/>
<line x1="580.2" y1="1114.4" x2="1079.6" y2="1114.4" stroke="#e00000" stroke-width="1.3"/>
<text transform="translate(593.9 937.8) scale(0.8291 1)" font-size="34.8" font-style="italic" font-weight="normal" fill="#0000f0" stroke="#0000f0" stroke-width="0.9">- Плитка 40 мм</text>
<text transform="translate(593.9 978.5) scale(0.8333 1)" font-size="34.8" font-style="italic" font-weight="normal" fill="#0000f0" stroke="#0000f0" stroke-width="0.9">- Гідроізоляція Техноніколь ЕПП</text>
<text transform="translate(593.9 1019.3) scale(0.8289 1)" font-size="34.8" font-style="italic" font-weight="normal" fill="#0000f0" stroke="#0000f0" stroke-width="0.9">- Керамзітобетон 150 мм</text>
<text transform="translate(593.9 1060.5) scale(0.8335 1)" font-size="34.8" font-style="italic" font-weight="normal" fill="#0000f0" stroke="#0000f0" stroke-width="0.9">- Гідроізоляція ЦР-64</text>
<text transform="translate(593.9 1100.8) scale(0.8295 1)" font-size="34.8" font-style="italic" font-weight="normal" fill="#0000f0" stroke="#0000f0" stroke-width="0.9">- Стяжка 80 мм</text>
<text transform="translate(1032.9 1616.6) scale(0.8317 1)" font-size="43.9" font-style="italic" font-weight="normal" fill="#0000f0">Розріз  3 - 3</text>
<rect x="474.9" y="1767.4" width="1004.5" height="9.6" fill="url(#ht16)"/>
<clipPath id="g33"><rect x="474.9" y="1777" width="1004.5" height="37.4"/></clipPath>
<rect x="474.9" y="1777" width="1004.5" height="37.4" fill="url(#gv2)" clip-path="url(#g33)"/>
<rect x="474.9" y="1814.4" width="1004.5" height="20.2" fill="url(#scl4)"/>
<line x1="474.9" y1="1767.4" x2="1479.4" y2="1767.4" stroke="#000" stroke-width="1.8"/>
<line x1="474.9" y1="1777" x2="1479.4" y2="1777" stroke="#000" stroke-width="2.2"/>
<line x1="474.9" y1="1814.4" x2="1479.4" y2="1814.4" stroke="#000" stroke-width="2"/>
<line x1="368.8" y1="1619" x2="368.8" y2="1701.6" stroke="#e00000" stroke-width="1.6"/>
<line x1="474.9" y1="1619" x2="474.9" y2="1701.6" stroke="#e00000" stroke-width="1.6"/>
<line x1="379.4" y1="1619" x2="379.4" y2="1701.6" stroke="#e00000" stroke-width="1.1"/>
<line x1="419.2" y1="1619" x2="419.2" y2="1666.6" stroke="#e00000" stroke-width="1.1"/>
<line x1="379.4" y1="1666.6" x2="474.9" y2="1666.6" stroke="#e00000" stroke-width="1.1"/>
<path d="M370 1645 L376 1650 L370 1655" stroke="#e00000" stroke-width="1" fill="none" stroke-linejoin="miter" stroke-linecap="square"/>
<path d="M370 1670 L376 1675 L370 1680" stroke="#e00000" stroke-width="1" fill="none" stroke-linejoin="miter" stroke-linecap="square"/>
<rect x="373.6" y="1701.6" width="101.3" height="254.4" fill="url(#rc)"/>
<rect x="323.2" y="1956" width="202.1" height="62.4" fill="url(#bc3)"/>
<line x1="373.6" y1="1701.6" x2="474.9" y2="1701.6" stroke="#e00000" stroke-width="1.6"/>
<line x1="373.6" y1="1701.6" x2="373.6" y2="1727" stroke="#e00000" stroke-width="1.4"/>
<line x1="474.9" y1="1701.6" x2="474.9" y2="1834.6" stroke="#e00000" stroke-width="1.4"/>
<path d="M300 1727 L373.6 1727 L373.6 1956 L323.2 1956 L323.2 2018.4 L525.3 2018.4 L525.3 1956 L474.9 1956 L474.9 1834.6 L1479.4 1834.6 L1479.4 1956 L1428.6 1956 L1428.6 2018.4 L1630.6 2018.4 L1630.6 1956 L1580.2 1956 L1580.2 1817.8 L1672.4 1817.8" stroke="#1c0000" stroke-width="4.0" fill="none" stroke-linejoin="miter" stroke-linecap="square"/>
<line x1="373.6" y1="1956" x2="474.9" y2="1956" stroke="#e00000" stroke-width="1.4"/>
<line x1="1479.4" y1="1956" x2="1580.2" y2="1956" stroke="#e00000" stroke-width="1.4"/>
<rect x="300" y="1701.6" width="73.6" height="25.4" fill="url(#bd)"/>
<line x1="300" y1="1701.6" x2="368.8" y2="1701.6" stroke="#000" stroke-width="1.1"/>
<rect x="1479.4" y="1619" width="100.8" height="148.4" fill="url(#rd)"/>
<line x1="1479.4" y1="1619" x2="1479.4" y2="1767.4" stroke="#1c0000" stroke-width="3"/>
<line x1="1580.2" y1="1619" x2="1580.2" y2="1767.4" stroke="#1c0000" stroke-width="3"/>
<rect x="1479.4" y="1791.8" width="100.8" height="164.2" fill="url(#rc)"/>
<rect x="1428.6" y="1956" width="202" height="62.4" fill="url(#bc3)"/>
<rect x="1479.4" y="1767.4" width="105.6" height="24.4" stroke="#e00000" stroke-width="1.8" fill="none"/>
<line x1="1549" y1="1767.4" x2="1549" y2="1791.8" stroke="#e00000" stroke-width="1.1"/>
<rect x="1575.4" y="1775" width="9.6" height="16.8" stroke="#e00000" stroke-width="1" fill="none"/>
<line x1="1479.4" y1="1791.8" x2="1479.4" y2="1834.6" stroke="#e00000" stroke-width="1.4"/>
<line x1="1580.2" y1="1791.8" x2="1580.2" y2="1817.8" stroke="#e00000" stroke-width="1.4"/>
<rect x="1580.2" y="1791.8" width="89.8" height="26" fill="url(#ht)"/>
<line x1="1585" y1="1791.8" x2="1670" y2="1791.8" stroke="#000" stroke-width="1.1"/>
<path d="M300 1727 L373.6 1727 L373.6 1956 L323.2 1956 L323.2 2018.4 L525.3 2018.4 L525.3 1956 L474.9 1956 L474.9 1834.6 L1479.4 1834.6 L1479.4 1956 L1428.6 1956 L1428.6 2018.4 L1630.6 2018.4 L1630.6 1956 L1580.2 1956 L1580.2 1817.8 L1672.4 1817.8" stroke="#1c0000" stroke-width="4.0" fill="none" stroke-linejoin="miter" stroke-linecap="square"/>
<line x1="373.6" y1="1956" x2="474.9" y2="1956" stroke="#e00000" stroke-width="1.4"/>
<line x1="1479.4" y1="1956" x2="1580.2" y2="1956" stroke="#e00000" stroke-width="1.4"/>
<line x1="474.9" y1="1681" x2="474.9" y2="1834.6" stroke="#008000" stroke-width="1.3"/>
<line x1="474.9" y1="1956" x2="474.9" y2="1987" stroke="#008000" stroke-width="1.3"/>
<line x1="474.9" y1="2018.4" x2="474.9" y2="2105" stroke="#008000" stroke-width="1.3"/>
<line x1="1479.4" y1="1681" x2="1479.4" y2="1834.6" stroke="#008000" stroke-width="1.3"/>
<line x1="1479.4" y1="1956" x2="1479.4" y2="1987" stroke="#008000" stroke-width="1.3"/>
<line x1="1479.4" y1="2018.4" x2="1479.4" y2="2105" stroke="#008000" stroke-width="1.3"/>
<line x1="535.8" y1="1664.2" x2="535.8" y2="1701.6" stroke="#000" stroke-width="1.2"/>
<line x1="535.8" y1="1664.2" x2="618.8" y2="1664.2" stroke="#000" stroke-width="1.2"/>
<path d="M527.3 1687.6 L535.8 1701.6 L544.3 1687.6" stroke="#000" stroke-width="1.2" fill="none" stroke-linejoin="miter" stroke-linecap="square"/>
<text transform="translate(549.2 1660.6) scale(0.7760 1)" font-size="31" font-style="normal" font-weight="normal" fill="#000">-0,640</text>
<line x1="488.8" y1="1701.6" x2="547.8" y2="1701.6" stroke="#000" stroke-width="1.2"/>
<line x1="745.6" y1="1729" x2="745.6" y2="1767.4" stroke="#000" stroke-width="1.2"/>
<line x1="745.6" y1="1729" x2="828.6" y2="1729" stroke="#000" stroke-width="1.2"/>
<path d="M737.1 1753.4 L745.6 1767.4 L754.1 1753.4" stroke="#000" stroke-width="1.2" fill="none" stroke-linejoin="miter" stroke-linecap="square"/>
<text transform="translate(759 1725.4) scale(0.7760 1)" font-size="31" font-style="normal" font-weight="normal" fill="#000">-0,900</text>
<line x1="895.4" y1="1739.5" x2="895.4" y2="1777" stroke="#000" stroke-width="1.2"/>
<line x1="895.4" y1="1739.5" x2="978.4" y2="1739.5" stroke="#000" stroke-width="1.2"/>
<path d="M886.9 1763 L895.4 1777 L903.9 1763" stroke="#000" stroke-width="1.2" fill="none" stroke-linejoin="miter" stroke-linecap="square"/>
<text transform="translate(908.8 1735.9) scale(0.7760 1)" font-size="31" font-style="normal" font-weight="normal" fill="#000">-0,940</text>
<line x1="760" y1="1872" x2="760" y2="1834.6" stroke="#000" stroke-width="1.2"/>
<line x1="760" y1="1872" x2="843" y2="1872" stroke="#000" stroke-width="1.2"/>
<path d="M751.5 1848.6 L760 1834.6 L768.5 1848.6" stroke="#000" stroke-width="1.2" fill="none" stroke-linejoin="miter" stroke-linecap="square"/>
<text transform="translate(773.4 1896.5) scale(0.7760 1)" font-size="31" font-style="normal" font-weight="normal" fill="#000">-1,170</text>
<line x1="911.2" y1="1851.8" x2="911.2" y2="1814.4" stroke="#000" stroke-width="1.2"/>
<line x1="911.2" y1="1851.8" x2="994.2" y2="1851.8" stroke="#000" stroke-width="1.2"/>
<path d="M902.7 1828.4 L911.2 1814.4 L919.7 1828.4" stroke="#000" stroke-width="1.2" fill="none" stroke-linejoin="miter" stroke-linecap="square"/>
<text transform="translate(924.6 1876.3) scale(0.7760 1)" font-size="31" font-style="normal" font-weight="normal" fill="#000">-1,090</text>
<line x1="572.8" y1="1916.6" x2="572.8" y2="1956" stroke="#000" stroke-width="1.2"/>
<line x1="572.8" y1="1916.6" x2="655.8" y2="1916.6" stroke="#000" stroke-width="1.2"/>
<path d="M564.3 1942 L572.8 1956 L581.3 1942" stroke="#000" stroke-width="1.2" fill="none" stroke-linejoin="miter" stroke-linecap="square"/>
<text transform="translate(586.2 1913) scale(0.7760 1)" font-size="31" font-style="normal" font-weight="normal" fill="#000">-1,650</text>
<line x1="540.6" y1="1956" x2="583.8" y2="1956" stroke="#000" stroke-width="1.2"/>
<line x1="628" y1="1981" x2="628" y2="2018.4" stroke="#000" stroke-width="1.2"/>
<line x1="628" y1="1981" x2="711" y2="1981" stroke="#000" stroke-width="1.2"/>
<path d="M619.5 2004.4 L628 2018.4 L636.5 2004.4" stroke="#000" stroke-width="1.2" fill="none" stroke-linejoin="miter" stroke-linecap="square"/>
<text transform="translate(641.4 1977.4) scale(0.7760 1)" font-size="31" font-style="normal" font-weight="normal" fill="#000">-1,900</text>
<line x1="540.6" y1="2018.4" x2="640" y2="2018.4" stroke="#000" stroke-width="1.2"/>
<line x1="1616.2" y1="1754.4" x2="1616.2" y2="1791.8" stroke="#000" stroke-width="1.2"/>
<line x1="1616.2" y1="1754.4" x2="1699.2" y2="1754.4" stroke="#000" stroke-width="1.2"/>
<path d="M1607.7 1777.8 L1616.2 1791.8 L1624.7 1777.8" stroke="#000" stroke-width="1.2" fill="none" stroke-linejoin="miter" stroke-linecap="square"/>
<text transform="translate(1629.6 1750.8) scale(0.7760 1)" font-size="31" font-style="normal" font-weight="normal" fill="#000">-1,000</text>
<line x1="1353.2" y1="1916.6" x2="1353.2" y2="1956" stroke="#000" stroke-width="1.2"/>
<line x1="1353.2" y1="1916.6" x2="1436.2" y2="1916.6" stroke="#000" stroke-width="1.2"/>
<path d="M1344.7 1942 L1353.2 1956 L1361.7 1942" stroke="#000" stroke-width="1.2" fill="none" stroke-linejoin="miter" stroke-linecap="square"/>
<text transform="translate(1366.6 1913) scale(0.7760 1)" font-size="31" font-style="normal" font-weight="normal" fill="#000">-1,650</text>
<line x1="1342.2" y1="1956" x2="1414.6" y2="1956" stroke="#000" stroke-width="1.2"/>
<line x1="1198.2" y1="1981" x2="1198.2" y2="2018.4" stroke="#000" stroke-width="1.2"/>
<line x1="1198.2" y1="1981" x2="1281.2" y2="1981" stroke="#000" stroke-width="1.2"/>
<path d="M1189.7 2004.4 L1198.2 2018.4 L1206.7 2004.4" stroke="#000" stroke-width="1.2" fill="none" stroke-linejoin="miter" stroke-linecap="square"/>
<text transform="translate(1211.6 1977.4) scale(0.7760 1)" font-size="31" font-style="normal" font-weight="normal" fill="#000">-1,900</text>
<line x1="1186.2" y1="2018.4" x2="1414.6" y2="2018.4" stroke="#000" stroke-width="1.2"/>
<line x1="469.6" y1="2055.4" x2="1487" y2="2055.4" stroke="#000" stroke-width="1.2"/>
<line x1="467.9" y1="2061.9" x2="481.9" y2="2048.9" stroke="#000" stroke-width="1.3"/>
<line x1="1472.4" y1="2061.9" x2="1486.4" y2="2048.9" stroke="#000" stroke-width="1.3"/>
<text transform="translate(947.1 2082) scale(0.7760 1)" font-size="31" font-style="normal" font-weight="normal" fill="#000">4 000</text>
<circle cx="474.9" cy="2136" r="30.5" stroke="#0000f0" stroke-width="2.3" fill="none"/>
<text transform="translate(463.1 2150.4) scale(0.7400 1)" font-size="45.6" font-style="normal" font-weight="normal" fill="#000">В</text>
<circle cx="1479.4" cy="2136" r="30.5" stroke="#0000f0" stroke-width="2.3" fill="none"/>
<text transform="translate(1468.1 2150.4) scale(0.7400 1)" font-size="45.6" font-style="normal" font-weight="normal" fill="#000">Д</text>
<text transform="translate(1859.5 1664.6) scale(0.8180 1)" font-size="44.6" font-style="italic" font-weight="normal" fill="#0000f0" stroke="#0000f0" stroke-width="0.5">1. Горизонтальну гідроізоляцію стін П1, П2 дивись лист 2011-010-РК-04;</text></svg></body></html>
